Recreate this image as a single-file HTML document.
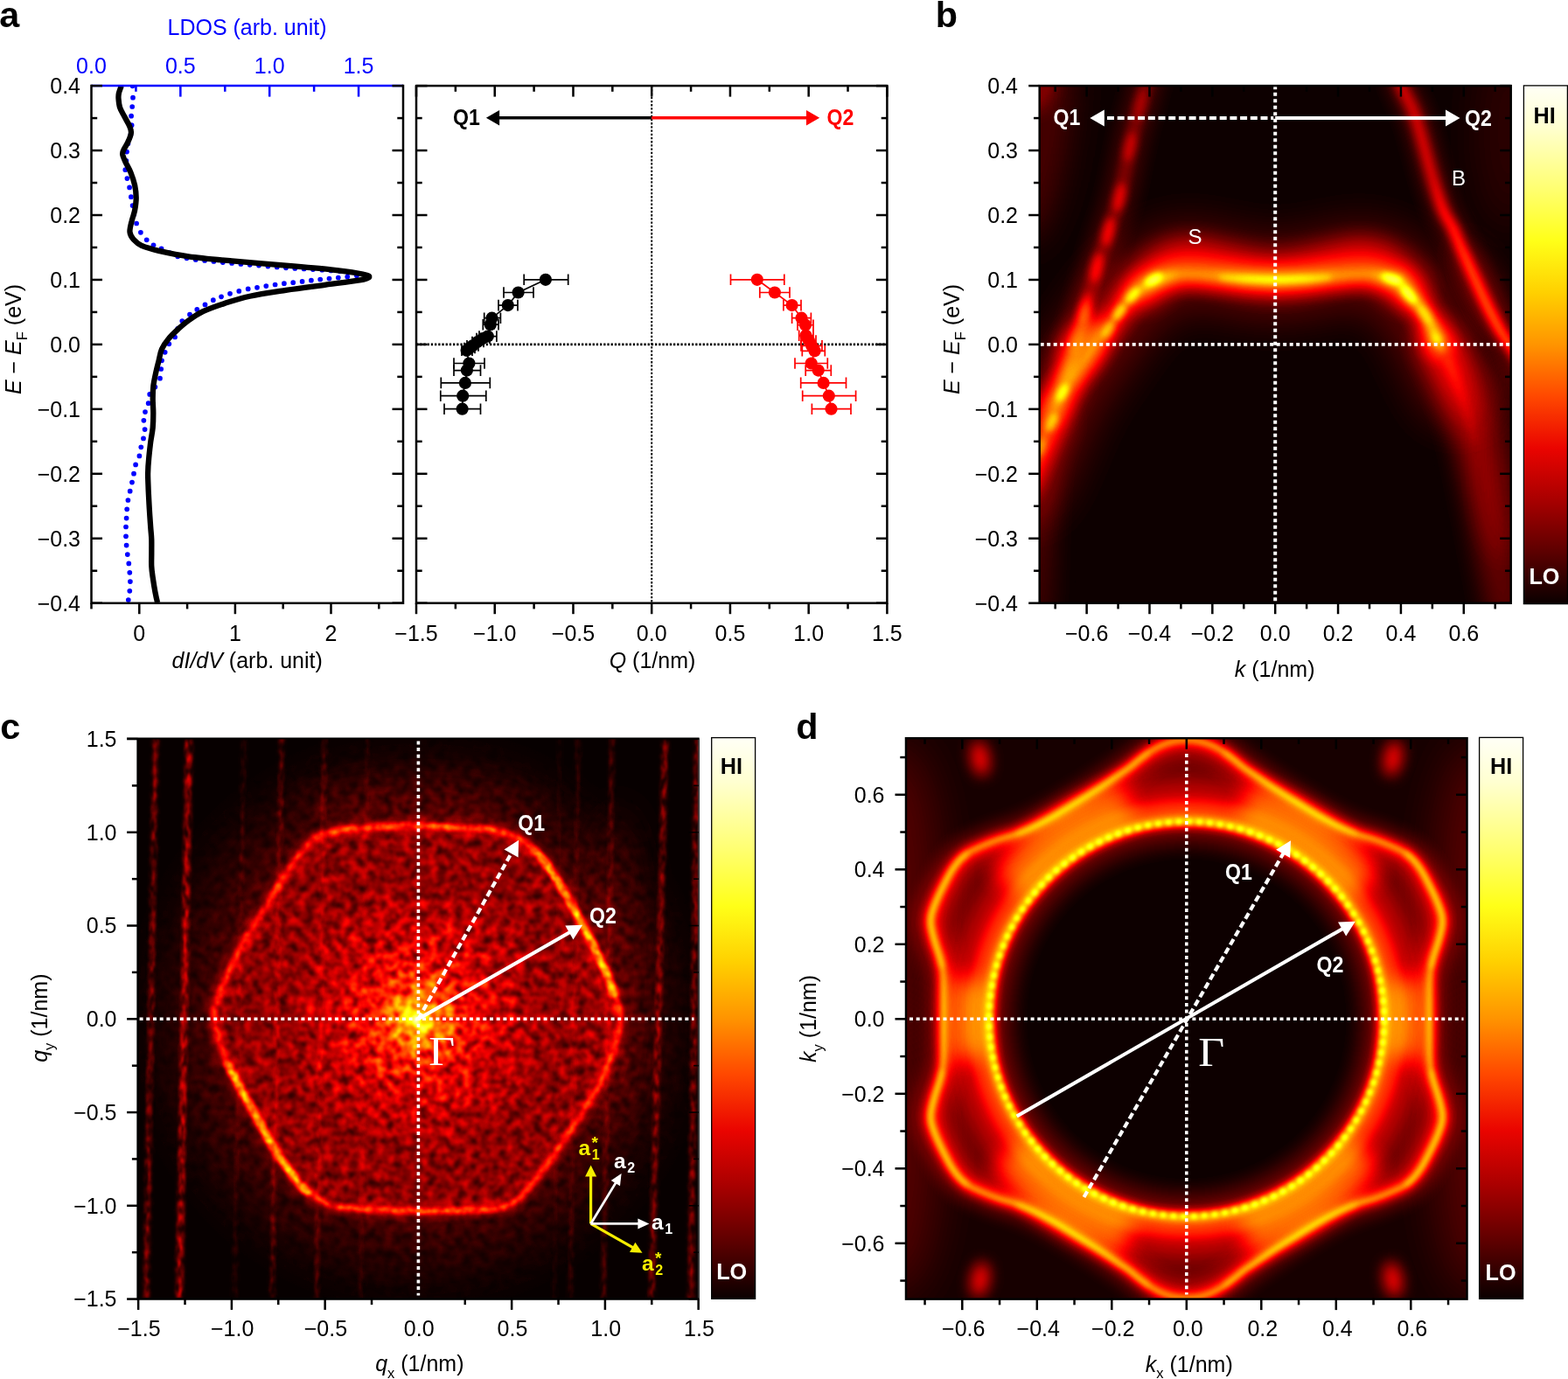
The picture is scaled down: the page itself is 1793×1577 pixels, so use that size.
<!DOCTYPE html>
<html lang="en"><head><meta charset="utf-8"><title>Figure</title>
<style>
html,body{margin:0;padding:0;background:#fff;}
body{width:1793px;height:1577px;overflow:hidden;}
svg{display:block;font-family:"Liberation Sans",sans-serif;}
</style></head><body>
<svg width="1793" height="1577" viewBox="0 0 1793 1577">
<rect width="1793" height="1577" fill="#fff"/>
<defs>
<filter id="hot" color-interpolation-filters="sRGB" filterUnits="userSpaceOnUse" x="0" y="0" width="1793" height="1577">
<feComponentTransfer><feFuncR type="table" tableValues="0.030 0.108 0.186 0.265 0.343 0.421 0.499 0.578 0.656 0.734 0.812 0.890 0.969 1.000 1.000 1.000 1.000 1.000 1.000 1.000 1.000 1.000 1.000 1.000 1.000 1.000 1.000 1.000 1.000 1.000 1.000 1.000 1.000 1.000 1.000 1.000 1.000 1.000 1.000 1.000 1.000"/><feFuncG type="table" tableValues="0.000 0.000 0.000 0.000 0.000 0.000 0.000 0.000 0.000 0.000 0.000 0.000 0.000 0.038 0.103 0.167 0.231 0.295 0.359 0.423 0.487 0.551 0.615 0.679 0.744 0.808 0.872 0.936 1.000 1.000 1.000 1.000 1.000 1.000 1.000 1.000 1.000 1.000 1.000 1.000 1.000"/><feFuncB type="table" tableValues="0.000 0.000 0.000 0.000 0.000 0.000 0.000 0.000 0.000 0.000 0.000 0.000 0.000 0.000 0.000 0.000 0.000 0.000 0.000 0.000 0.000 0.000 0.000 0.000 0.000 0.000 0.000 0.000 0.000 0.081 0.162 0.243 0.323 0.404 0.485 0.566 0.647 0.728 0.808 0.889 0.970"/></feComponentTransfer></filter>
<filter id="bl1_5" color-interpolation-filters="sRGB" filterUnits="userSpaceOnUse" x="0" y="0" width="1793" height="1577"><feGaussianBlur stdDeviation="1.5"/></filter>
<filter id="bl2" color-interpolation-filters="sRGB" filterUnits="userSpaceOnUse" x="0" y="0" width="1793" height="1577"><feGaussianBlur stdDeviation="2"/></filter>
<filter id="bl3" color-interpolation-filters="sRGB" filterUnits="userSpaceOnUse" x="0" y="0" width="1793" height="1577"><feGaussianBlur stdDeviation="3"/></filter>
<filter id="bl4" color-interpolation-filters="sRGB" filterUnits="userSpaceOnUse" x="0" y="0" width="1793" height="1577"><feGaussianBlur stdDeviation="4"/></filter>
<filter id="bl5" color-interpolation-filters="sRGB" filterUnits="userSpaceOnUse" x="0" y="0" width="1793" height="1577"><feGaussianBlur stdDeviation="5"/></filter>
<filter id="bl6" color-interpolation-filters="sRGB" filterUnits="userSpaceOnUse" x="0" y="0" width="1793" height="1577"><feGaussianBlur stdDeviation="6"/></filter>
<filter id="bl8" color-interpolation-filters="sRGB" filterUnits="userSpaceOnUse" x="0" y="0" width="1793" height="1577"><feGaussianBlur stdDeviation="8"/></filter>
<filter id="bl10" color-interpolation-filters="sRGB" filterUnits="userSpaceOnUse" x="0" y="0" width="1793" height="1577"><feGaussianBlur stdDeviation="10"/></filter>
<filter id="bl12" color-interpolation-filters="sRGB" filterUnits="userSpaceOnUse" x="0" y="0" width="1793" height="1577"><feGaussianBlur stdDeviation="12"/></filter>
<filter id="bl16" color-interpolation-filters="sRGB" filterUnits="userSpaceOnUse" x="0" y="0" width="1793" height="1577"><feGaussianBlur stdDeviation="16"/></filter>
<filter id="bl20" color-interpolation-filters="sRGB" filterUnits="userSpaceOnUse" x="0" y="0" width="1793" height="1577"><feGaussianBlur stdDeviation="20"/></filter>
<filter id="bl25" color-interpolation-filters="sRGB" filterUnits="userSpaceOnUse" x="0" y="0" width="1793" height="1577"><feGaussianBlur stdDeviation="25"/></filter>
<filter id="bl30" color-interpolation-filters="sRGB" filterUnits="userSpaceOnUse" x="0" y="0" width="1793" height="1577"><feGaussianBlur stdDeviation="30"/></filter>
<filter id="bl40" color-interpolation-filters="sRGB" filterUnits="userSpaceOnUse" x="0" y="0" width="1793" height="1577"><feGaussianBlur stdDeviation="40"/></filter>
<filter id="bl60" color-interpolation-filters="sRGB" filterUnits="userSpaceOnUse" x="0" y="0" width="1793" height="1577"><feGaussianBlur stdDeviation="60"/></filter>
<linearGradient id="cbar" x1="0" y1="0" x2="0" y2="1"><stop offset="0" stop-color="#fffff6"/><stop offset="0.08" stop-color="#ffffd0"/><stop offset="0.2" stop-color="#ffff70"/><stop offset="0.3" stop-color="#ffff18"/><stop offset="0.4" stop-color="#ffd000"/><stop offset="0.5" stop-color="#ff9400"/><stop offset="0.6" stop-color="#ff4800"/><stop offset="0.7" stop-color="#ea0400"/><stop offset="0.8" stop-color="#a80000"/><stop offset="0.9" stop-color="#5c0000"/><stop offset="1" stop-color="#0a0000"/></linearGradient>
</defs>
<g id="panel-a">
<text x="-0.80" y="31.40" text-anchor="start" font-size="41.3" fill="#000" font-weight="bold" font-style="normal" >a</text>
<clipPath id="clipA"><rect x="104.5" y="98.09999999999997" width="356.5" height="591.6000000000001"/></clipPath>
<g clip-path="url(#clipA)">
<g fill="#0000ff"><circle cx="151.6" cy="98.3" r="2.85"/><circle cx="152.0" cy="111.7" r="2.85"/><circle cx="151.2" cy="122.0" r="2.85"/><circle cx="150.1" cy="132.7" r="2.85"/><circle cx="150.6" cy="143.2" r="2.85"/><circle cx="149.5" cy="154.0" r="2.85"/><circle cx="146.4" cy="164.3" r="2.85"/><circle cx="145.0" cy="173.6" r="2.85"/><circle cx="144.4" cy="183.9" r="2.85"/><circle cx="143.3" cy="194.2" r="2.85"/><circle cx="145.4" cy="204.1" r="2.85"/><circle cx="148.1" cy="214.4" r="2.85"/><circle cx="149.9" cy="225.2" r="2.85"/><circle cx="151.6" cy="235.1" r="2.85"/><circle cx="153.2" cy="245.2" r="2.85"/><circle cx="156.1" cy="255.5" r="2.85"/><circle cx="160.9" cy="265.8" r="2.85"/><circle cx="167.7" cy="274.3" r="2.85"/><circle cx="175.5" cy="280.3" r="2.85"/><circle cx="184.6" cy="284.4" r="2.85"/><circle cx="193.9" cy="289.1" r="2.85"/><circle cx="203.2" cy="293.3" r="2.85"/><circle cx="213.5" cy="295.3" r="2.85"/><circle cx="223.8" cy="297.0" r="2.85"/><circle cx="234.1" cy="298.0" r="2.85"/><circle cx="244.4" cy="299.0" r="2.85"/><circle cx="254.8" cy="300.1" r="2.85"/><circle cx="265.1" cy="300.9" r="2.85"/><circle cx="275.4" cy="301.9" r="2.85"/><circle cx="285.7" cy="302.8" r="2.85"/><circle cx="296.0" cy="303.6" r="2.85"/><circle cx="306.4" cy="304.6" r="2.85"/><circle cx="316.7" cy="305.4" r="2.85"/><circle cx="327.0" cy="306.3" r="2.85"/><circle cx="337.3" cy="306.9" r="2.85"/><circle cx="347.6" cy="307.5" r="2.85"/><circle cx="357.9" cy="308.1" r="2.85"/><circle cx="368.3" cy="308.7" r="2.85"/><circle cx="378.6" cy="309.4" r="2.85"/><circle cx="388.9" cy="310.2" r="2.85"/><circle cx="398.2" cy="311.8" r="2.85"/><circle cx="407.9" cy="315.3" r="2.85"/><circle cx="397.2" cy="316.6" r="2.85"/><circle cx="386.8" cy="317.6" r="2.85"/><circle cx="376.5" cy="318.6" r="2.85"/><circle cx="366.2" cy="319.5" r="2.85"/><circle cx="355.9" cy="320.7" r="2.85"/><circle cx="345.6" cy="321.9" r="2.85"/><circle cx="335.2" cy="323.2" r="2.85"/><circle cx="324.9" cy="324.2" r="2.85"/><circle cx="314.6" cy="325.5" r="2.85"/><circle cx="304.3" cy="327.1" r="2.85"/><circle cx="294.0" cy="328.8" r="2.85"/><circle cx="283.7" cy="330.4" r="2.85"/><circle cx="273.3" cy="332.9" r="2.85"/><circle cx="263.0" cy="335.8" r="2.85"/><circle cx="253.1" cy="339.3" r="2.85"/><circle cx="243.8" cy="343.2" r="2.85"/><circle cx="234.5" cy="348.4" r="2.85"/><circle cx="225.3" cy="353.9" r="2.85"/><circle cx="217.0" cy="359.7" r="2.85"/><circle cx="208.3" cy="367.1" r="2.85"/><circle cx="203.2" cy="375.8" r="2.85"/><circle cx="200.1" cy="385.5" r="2.85"/><circle cx="193.3" cy="393.3" r="2.85"/><circle cx="188.7" cy="402.8" r="2.85"/><circle cx="185.0" cy="412.3" r="2.85"/><circle cx="184.2" cy="422.0" r="2.85"/><circle cx="183.0" cy="432.7" r="2.85"/><circle cx="177.4" cy="442.6" r="2.85"/><circle cx="171.2" cy="450.9" r="2.85"/><circle cx="169.7" cy="461.2" r="2.85"/><circle cx="166.0" cy="471.1" r="2.85"/><circle cx="164.4" cy="480.8" r="2.85"/><circle cx="165.6" cy="491.1" r="2.85"/><circle cx="164.0" cy="501.4" r="2.85"/><circle cx="161.3" cy="511.3" r="2.85"/><circle cx="159.4" cy="521.4" r="2.85"/><circle cx="155.1" cy="531.4" r="2.85"/><circle cx="153.0" cy="541.7" r="2.85"/><circle cx="151.0" cy="551.6" r="2.85"/><circle cx="148.7" cy="561.7" r="2.85"/><circle cx="146.4" cy="572.0" r="2.85"/><circle cx="145.2" cy="582.3" r="2.85"/><circle cx="144.6" cy="592.6" r="2.85"/><circle cx="144.0" cy="602.5" r="2.85"/><circle cx="144.0" cy="613.3" r="2.85"/><circle cx="144.6" cy="623.6" r="2.85"/><circle cx="145.8" cy="634.1" r="2.85"/><circle cx="147.3" cy="644.4" r="2.85"/><circle cx="148.3" cy="654.8" r="2.85"/><circle cx="148.9" cy="665.1" r="2.85"/><circle cx="148.3" cy="675.8" r="2.85"/><circle cx="146.8" cy="686.1" r="2.85"/></g>
<path d="M138.8,98.3C138.3,99.6 136.5,104.1 135.9,106.5C135.4,108.9 135.3,109.9 135.5,112.7C135.7,115.5 136.0,119.6 137.1,123.0C138.3,126.5 140.5,129.9 142.3,133.3C144.1,136.8 146.6,140.6 147.9,143.7C149.1,146.7 150.2,148.8 149.9,151.9C149.7,155.0 147.9,159.0 146.4,162.2C145.0,165.5 142.3,169.1 141.3,171.5C140.2,173.9 139.9,174.4 140.2,176.7C140.6,178.9 141.8,181.5 143.3,184.9C144.9,188.4 147.7,192.8 149.5,197.3C151.3,201.8 153.0,206.9 154.1,211.7C155.1,216.6 155.7,221.4 155.7,226.2C155.7,231.0 154.9,236.2 154.1,240.6C153.2,245.1 151.5,248.9 150.6,253.0C149.6,257.1 148.1,262.0 148.5,265.4C148.8,268.8 150.4,271.1 152.6,273.7C154.9,276.2 156.9,278.6 161.9,280.9C166.9,283.1 173.6,285.0 182.5,287.1C191.5,289.1 201.8,291.4 215.6,293.3C229.3,295.2 246.5,296.7 265.1,298.4C283.7,300.1 308.1,301.9 327.0,303.6C345.9,305.2 364.8,306.8 378.6,308.3C392.3,309.8 402.5,311.3 409.5,312.5C416.6,313.6 418.8,314.7 420.9,315.3C422.9,316.0 421.9,316.2 421.9,316.6C421.9,317.0 422.9,317.1 420.9,317.8C418.8,318.5 418.3,319.3 409.5,320.7C400.8,322.1 382.0,324.4 368.3,326.3C354.5,328.1 340.7,329.8 327.0,331.8C313.2,333.9 297.4,336.1 285.7,338.7C274.0,341.2 265.8,344.0 256.8,346.9C247.9,349.8 238.9,352.9 232.1,356.2C225.2,359.5 220.4,363.1 215.6,366.5C210.7,370.0 207.0,373.4 203.2,376.8C199.4,380.3 195.9,383.4 192.9,387.2C189.8,390.9 186.9,395.0 185.0,399.3C183.1,403.5 182.7,408.1 181.5,412.7C180.3,417.3 179.0,422.3 178.0,427.1C177.0,432.0 175.9,436.8 175.3,441.6C174.8,446.4 174.7,450.9 174.7,456.0C174.7,461.2 175.3,467.0 175.3,472.5C175.3,478.0 175.2,483.5 174.7,489.1C174.2,494.6 173.0,499.7 172.2,505.6C171.5,511.4 170.7,518.1 170.2,524.1C169.6,530.1 169.2,535.5 169.1,541.7C169.1,547.9 169.5,554.6 169.7,561.3C170.0,568.0 170.4,575.0 170.8,581.9C171.2,588.8 171.8,596.7 172.2,602.5C172.6,608.4 173.1,611.8 173.3,617.0C173.4,622.2 173.3,628.3 173.3,633.5C173.3,638.7 173.0,643.5 173.3,647.9C173.5,652.4 174.0,655.5 174.7,660.3C175.4,665.1 176.5,672.0 177.4,676.8C178.3,681.6 179.6,687.2 180.1,689.2" fill="none" stroke="#000" stroke-width="6.3" stroke-linejoin="round"/>
</g>
<line x1="104.50" y1="98.10" x2="461.00" y2="98.10" stroke="#0000ff" stroke-width="2.5" />
<line x1="206.35" y1="98.10" x2="206.35" y2="110.60" stroke="#0000ff" stroke-width="2.5" />
<line x1="308.20" y1="98.10" x2="308.20" y2="110.60" stroke="#0000ff" stroke-width="2.5" />
<line x1="410.05" y1="98.10" x2="410.05" y2="110.60" stroke="#0000ff" stroke-width="2.5" />
<line x1="155.43" y1="98.10" x2="155.43" y2="104.80" stroke="#0000ff" stroke-width="2.5" />
<line x1="257.27" y1="98.10" x2="257.27" y2="104.80" stroke="#0000ff" stroke-width="2.5" />
<line x1="359.12" y1="98.10" x2="359.12" y2="104.80" stroke="#0000ff" stroke-width="2.5" />
<path d="M104.5,96.84999999999997 V689.7 H461.0 V96.84999999999997" fill="none" stroke="#000" stroke-width="2.5"/>
<line x1="104.50" y1="689.70" x2="117.00" y2="689.70" stroke="#000" stroke-width="2.5" />
<line x1="104.50" y1="615.75" x2="117.00" y2="615.75" stroke="#000" stroke-width="2.5" />
<line x1="104.50" y1="541.80" x2="117.00" y2="541.80" stroke="#000" stroke-width="2.5" />
<line x1="104.50" y1="467.85" x2="117.00" y2="467.85" stroke="#000" stroke-width="2.5" />
<line x1="104.50" y1="393.90" x2="117.00" y2="393.90" stroke="#000" stroke-width="2.5" />
<line x1="104.50" y1="319.95" x2="117.00" y2="319.95" stroke="#000" stroke-width="2.5" />
<line x1="104.50" y1="246.00" x2="117.00" y2="246.00" stroke="#000" stroke-width="2.5" />
<line x1="104.50" y1="172.05" x2="117.00" y2="172.05" stroke="#000" stroke-width="2.5" />
<line x1="104.50" y1="98.10" x2="117.00" y2="98.10" stroke="#000" stroke-width="2.5" />
<line x1="104.50" y1="652.73" x2="111.20" y2="652.73" stroke="#000" stroke-width="2.5" />
<line x1="104.50" y1="578.77" x2="111.20" y2="578.77" stroke="#000" stroke-width="2.5" />
<line x1="104.50" y1="504.82" x2="111.20" y2="504.82" stroke="#000" stroke-width="2.5" />
<line x1="104.50" y1="430.88" x2="111.20" y2="430.88" stroke="#000" stroke-width="2.5" />
<line x1="104.50" y1="356.92" x2="111.20" y2="356.92" stroke="#000" stroke-width="2.5" />
<line x1="104.50" y1="282.97" x2="111.20" y2="282.97" stroke="#000" stroke-width="2.5" />
<line x1="104.50" y1="209.02" x2="111.20" y2="209.02" stroke="#000" stroke-width="2.5" />
<line x1="104.50" y1="135.07" x2="111.20" y2="135.07" stroke="#000" stroke-width="2.5" />
<line x1="461.00" y1="689.70" x2="448.50" y2="689.70" stroke="#000" stroke-width="2.5" />
<line x1="461.00" y1="615.75" x2="448.50" y2="615.75" stroke="#000" stroke-width="2.5" />
<line x1="461.00" y1="541.80" x2="448.50" y2="541.80" stroke="#000" stroke-width="2.5" />
<line x1="461.00" y1="467.85" x2="448.50" y2="467.85" stroke="#000" stroke-width="2.5" />
<line x1="461.00" y1="393.90" x2="448.50" y2="393.90" stroke="#000" stroke-width="2.5" />
<line x1="461.00" y1="319.95" x2="448.50" y2="319.95" stroke="#000" stroke-width="2.5" />
<line x1="461.00" y1="246.00" x2="448.50" y2="246.00" stroke="#000" stroke-width="2.5" />
<line x1="461.00" y1="172.05" x2="448.50" y2="172.05" stroke="#000" stroke-width="2.5" />
<line x1="461.00" y1="98.10" x2="448.50" y2="98.10" stroke="#000" stroke-width="2.5" />
<line x1="461.00" y1="652.73" x2="454.30" y2="652.73" stroke="#000" stroke-width="2.5" />
<line x1="461.00" y1="578.77" x2="454.30" y2="578.77" stroke="#000" stroke-width="2.5" />
<line x1="461.00" y1="504.82" x2="454.30" y2="504.82" stroke="#000" stroke-width="2.5" />
<line x1="461.00" y1="430.88" x2="454.30" y2="430.88" stroke="#000" stroke-width="2.5" />
<line x1="461.00" y1="356.92" x2="454.30" y2="356.92" stroke="#000" stroke-width="2.5" />
<line x1="461.00" y1="282.97" x2="454.30" y2="282.97" stroke="#000" stroke-width="2.5" />
<line x1="461.00" y1="209.02" x2="454.30" y2="209.02" stroke="#000" stroke-width="2.5" />
<line x1="461.00" y1="135.07" x2="454.30" y2="135.07" stroke="#000" stroke-width="2.5" />
<line x1="159.30" y1="689.70" x2="159.30" y2="702.20" stroke="#000" stroke-width="2.5" />
<line x1="268.90" y1="689.70" x2="268.90" y2="702.20" stroke="#000" stroke-width="2.5" />
<line x1="378.50" y1="689.70" x2="378.50" y2="702.20" stroke="#000" stroke-width="2.5" />
<line x1="104.50" y1="689.70" x2="104.50" y2="696.40" stroke="#000" stroke-width="2.5" />
<line x1="214.10" y1="689.70" x2="214.10" y2="696.40" stroke="#000" stroke-width="2.5" />
<line x1="323.70" y1="689.70" x2="323.70" y2="696.40" stroke="#000" stroke-width="2.5" />
<line x1="433.30" y1="689.70" x2="433.30" y2="696.40" stroke="#000" stroke-width="2.5" />
<text x="92.00" y="698.60" text-anchor="end" font-size="25.0" fill="#000" font-weight="normal" font-style="normal" >−0.4</text>
<text x="92.00" y="624.65" text-anchor="end" font-size="25.0" fill="#000" font-weight="normal" font-style="normal" >−0.3</text>
<text x="92.00" y="550.70" text-anchor="end" font-size="25.0" fill="#000" font-weight="normal" font-style="normal" >−0.2</text>
<text x="92.00" y="476.75" text-anchor="end" font-size="25.0" fill="#000" font-weight="normal" font-style="normal" >−0.1</text>
<text x="92.00" y="402.80" text-anchor="end" font-size="25.0" fill="#000" font-weight="normal" font-style="normal" >0.0</text>
<text x="92.00" y="328.85" text-anchor="end" font-size="25.0" fill="#000" font-weight="normal" font-style="normal" >0.1</text>
<text x="92.00" y="254.90" text-anchor="end" font-size="25.0" fill="#000" font-weight="normal" font-style="normal" >0.2</text>
<text x="92.00" y="180.95" text-anchor="end" font-size="25.0" fill="#000" font-weight="normal" font-style="normal" >0.3</text>
<text x="92.00" y="107.00" text-anchor="end" font-size="25.0" fill="#000" font-weight="normal" font-style="normal" >0.4</text>
<text x="159.30" y="732.90" text-anchor="middle" font-size="25.0" fill="#000" font-weight="normal" font-style="normal" >0</text>
<text x="268.90" y="732.90" text-anchor="middle" font-size="25.0" fill="#000" font-weight="normal" font-style="normal" >1</text>
<text x="378.50" y="732.90" text-anchor="middle" font-size="25.0" fill="#000" font-weight="normal" font-style="normal" >2</text>
<text x="104.50" y="83.60" text-anchor="middle" font-size="25.0" fill="#0000ff" font-weight="normal" font-style="normal" >0.0</text>
<text x="206.35" y="83.60" text-anchor="middle" font-size="25.0" fill="#0000ff" font-weight="normal" font-style="normal" >0.5</text>
<text x="308.20" y="83.60" text-anchor="middle" font-size="25.0" fill="#0000ff" font-weight="normal" font-style="normal" >1.0</text>
<text x="410.05" y="83.60" text-anchor="middle" font-size="25.0" fill="#0000ff" font-weight="normal" font-style="normal" >1.5</text>
<text x="282.50" y="40.30" text-anchor="middle" font-size="25.0" fill="#0000ff" font-weight="normal" font-style="normal" >LDOS (arb. unit)</text>
<text x="282.7" y="764.3" text-anchor="middle" font-size="25.0"><tspan font-style="italic">dI/dV</tspan> (arb. unit)</text>
<text transform="translate(23.8,388) rotate(-90)" text-anchor="middle" font-size="25.0"><tspan font-style="italic">E</tspan> − <tspan font-style="italic">E</tspan><tspan font-size="16.5" dy="7.5">F</tspan><tspan dy="-7.5"> (eV)</tspan></text>
<line x1="476.00" y1="393.90" x2="1014.40" y2="393.90" stroke="#000" stroke-width="2.6" stroke-dasharray="2.3 1.9"/>
<line x1="745.20" y1="98.10" x2="745.20" y2="689.70" stroke="#000" stroke-width="2.0" stroke-dasharray="2.3 1.9"/>
<rect x="476.0" y="98.09999999999997" width="538.4" height="591.6000000000001" fill="none" stroke="#000" stroke-width="2.5"/>
<line x1="476.00" y1="689.70" x2="488.50" y2="689.70" stroke="#000" stroke-width="2.5" />
<line x1="476.00" y1="615.75" x2="488.50" y2="615.75" stroke="#000" stroke-width="2.5" />
<line x1="476.00" y1="541.80" x2="488.50" y2="541.80" stroke="#000" stroke-width="2.5" />
<line x1="476.00" y1="467.85" x2="488.50" y2="467.85" stroke="#000" stroke-width="2.5" />
<line x1="476.00" y1="393.90" x2="488.50" y2="393.90" stroke="#000" stroke-width="2.5" />
<line x1="476.00" y1="319.95" x2="488.50" y2="319.95" stroke="#000" stroke-width="2.5" />
<line x1="476.00" y1="246.00" x2="488.50" y2="246.00" stroke="#000" stroke-width="2.5" />
<line x1="476.00" y1="172.05" x2="488.50" y2="172.05" stroke="#000" stroke-width="2.5" />
<line x1="476.00" y1="98.10" x2="488.50" y2="98.10" stroke="#000" stroke-width="2.5" />
<line x1="476.00" y1="652.73" x2="482.70" y2="652.73" stroke="#000" stroke-width="2.5" />
<line x1="476.00" y1="578.77" x2="482.70" y2="578.77" stroke="#000" stroke-width="2.5" />
<line x1="476.00" y1="504.82" x2="482.70" y2="504.82" stroke="#000" stroke-width="2.5" />
<line x1="476.00" y1="430.88" x2="482.70" y2="430.88" stroke="#000" stroke-width="2.5" />
<line x1="476.00" y1="356.92" x2="482.70" y2="356.92" stroke="#000" stroke-width="2.5" />
<line x1="476.00" y1="282.97" x2="482.70" y2="282.97" stroke="#000" stroke-width="2.5" />
<line x1="476.00" y1="209.02" x2="482.70" y2="209.02" stroke="#000" stroke-width="2.5" />
<line x1="476.00" y1="135.07" x2="482.70" y2="135.07" stroke="#000" stroke-width="2.5" />
<line x1="1014.40" y1="689.70" x2="1001.90" y2="689.70" stroke="#000" stroke-width="2.5" />
<line x1="1014.40" y1="615.75" x2="1001.90" y2="615.75" stroke="#000" stroke-width="2.5" />
<line x1="1014.40" y1="541.80" x2="1001.90" y2="541.80" stroke="#000" stroke-width="2.5" />
<line x1="1014.40" y1="467.85" x2="1001.90" y2="467.85" stroke="#000" stroke-width="2.5" />
<line x1="1014.40" y1="393.90" x2="1001.90" y2="393.90" stroke="#000" stroke-width="2.5" />
<line x1="1014.40" y1="319.95" x2="1001.90" y2="319.95" stroke="#000" stroke-width="2.5" />
<line x1="1014.40" y1="246.00" x2="1001.90" y2="246.00" stroke="#000" stroke-width="2.5" />
<line x1="1014.40" y1="172.05" x2="1001.90" y2="172.05" stroke="#000" stroke-width="2.5" />
<line x1="1014.40" y1="98.10" x2="1001.90" y2="98.10" stroke="#000" stroke-width="2.5" />
<line x1="1014.40" y1="652.73" x2="1007.70" y2="652.73" stroke="#000" stroke-width="2.5" />
<line x1="1014.40" y1="578.77" x2="1007.70" y2="578.77" stroke="#000" stroke-width="2.5" />
<line x1="1014.40" y1="504.82" x2="1007.70" y2="504.82" stroke="#000" stroke-width="2.5" />
<line x1="1014.40" y1="430.88" x2="1007.70" y2="430.88" stroke="#000" stroke-width="2.5" />
<line x1="1014.40" y1="356.92" x2="1007.70" y2="356.92" stroke="#000" stroke-width="2.5" />
<line x1="1014.40" y1="282.97" x2="1007.70" y2="282.97" stroke="#000" stroke-width="2.5" />
<line x1="1014.40" y1="209.02" x2="1007.70" y2="209.02" stroke="#000" stroke-width="2.5" />
<line x1="1014.40" y1="135.07" x2="1007.70" y2="135.07" stroke="#000" stroke-width="2.5" />
<line x1="476.00" y1="98.10" x2="476.00" y2="110.60" stroke="#000" stroke-width="2.5" />
<line x1="565.73" y1="98.10" x2="565.73" y2="110.60" stroke="#000" stroke-width="2.5" />
<line x1="655.47" y1="98.10" x2="655.47" y2="110.60" stroke="#000" stroke-width="2.5" />
<line x1="745.20" y1="98.10" x2="745.20" y2="110.60" stroke="#000" stroke-width="2.5" />
<line x1="834.94" y1="98.10" x2="834.94" y2="110.60" stroke="#000" stroke-width="2.5" />
<line x1="924.67" y1="98.10" x2="924.67" y2="110.60" stroke="#000" stroke-width="2.5" />
<line x1="1014.40" y1="98.10" x2="1014.40" y2="110.60" stroke="#000" stroke-width="2.5" />
<line x1="520.86" y1="98.10" x2="520.86" y2="104.80" stroke="#000" stroke-width="2.5" />
<line x1="610.60" y1="98.10" x2="610.60" y2="104.80" stroke="#000" stroke-width="2.5" />
<line x1="700.33" y1="98.10" x2="700.33" y2="104.80" stroke="#000" stroke-width="2.5" />
<line x1="790.07" y1="98.10" x2="790.07" y2="104.80" stroke="#000" stroke-width="2.5" />
<line x1="879.80" y1="98.10" x2="879.80" y2="104.80" stroke="#000" stroke-width="2.5" />
<line x1="969.54" y1="98.10" x2="969.54" y2="104.80" stroke="#000" stroke-width="2.5" />
<line x1="476.00" y1="689.70" x2="476.00" y2="702.20" stroke="#000" stroke-width="2.5" />
<line x1="565.73" y1="689.70" x2="565.73" y2="702.20" stroke="#000" stroke-width="2.5" />
<line x1="655.47" y1="689.70" x2="655.47" y2="702.20" stroke="#000" stroke-width="2.5" />
<line x1="745.20" y1="689.70" x2="745.20" y2="702.20" stroke="#000" stroke-width="2.5" />
<line x1="834.94" y1="689.70" x2="834.94" y2="702.20" stroke="#000" stroke-width="2.5" />
<line x1="924.67" y1="689.70" x2="924.67" y2="702.20" stroke="#000" stroke-width="2.5" />
<line x1="1014.40" y1="689.70" x2="1014.40" y2="702.20" stroke="#000" stroke-width="2.5" />
<line x1="520.86" y1="689.70" x2="520.86" y2="696.40" stroke="#000" stroke-width="2.5" />
<line x1="610.60" y1="689.70" x2="610.60" y2="696.40" stroke="#000" stroke-width="2.5" />
<line x1="700.33" y1="689.70" x2="700.33" y2="696.40" stroke="#000" stroke-width="2.5" />
<line x1="790.07" y1="689.70" x2="790.07" y2="696.40" stroke="#000" stroke-width="2.5" />
<line x1="879.80" y1="689.70" x2="879.80" y2="696.40" stroke="#000" stroke-width="2.5" />
<line x1="969.54" y1="689.70" x2="969.54" y2="696.40" stroke="#000" stroke-width="2.5" />
<text x="476.00" y="732.90" text-anchor="middle" font-size="25.0" fill="#000" font-weight="normal" font-style="normal" >−1.5</text>
<text x="565.73" y="732.90" text-anchor="middle" font-size="25.0" fill="#000" font-weight="normal" font-style="normal" >−1.0</text>
<text x="655.47" y="732.90" text-anchor="middle" font-size="25.0" fill="#000" font-weight="normal" font-style="normal" >−0.5</text>
<text x="745.20" y="732.90" text-anchor="middle" font-size="25.0" fill="#000" font-weight="normal" font-style="normal" >0.0</text>
<text x="834.94" y="732.90" text-anchor="middle" font-size="25.0" fill="#000" font-weight="normal" font-style="normal" >0.5</text>
<text x="924.67" y="732.90" text-anchor="middle" font-size="25.0" fill="#000" font-weight="normal" font-style="normal" >1.0</text>
<text x="1014.40" y="732.90" text-anchor="middle" font-size="25.0" fill="#000" font-weight="normal" font-style="normal" >1.5</text>
<text x="746" y="764.3" text-anchor="middle" font-size="25.0"><tspan font-style="italic">Q</tspan> (1/nm)</text>
<g stroke="#000" stroke-width="1.7" fill="none"><path d="M623.9,319.8 L592.6,334.5 L580.8,349.1 L562.5,363.7 L560.8,371.2 L557.8,384.6 L552.0,387.0 L546.0,391.0 L540.3,395.4 L537.0,398.0 L533.6,400.8 L536.4,415.5 L533.9,423.6 L531.9,437.9 L529.2,452.7 L528.6,467.7"/><path d="M599.2,319.8H649.7M599.2,313.5v12.6M649.7,313.5v12.6"/><path d="M576.0,334.5H610.0M576.0,328.2v12.6M610.0,328.2v12.6"/><path d="M570.0,349.1H592.0M570.0,342.8v12.6M592.0,342.8v12.6"/><path d="M553.7,363.7H572.4M553.7,357.4v12.6M572.4,357.4v12.6"/><path d="M552.3,371.2H570.0M552.3,364.9v12.6M570.0,364.9v12.6"/><path d="M548.0,384.6H567.9M548.0,378.3v12.6M567.9,378.3v12.6"/><path d="M545.0,387.0H560.0M545.0,380.7v12.6M560.0,380.7v12.6"/><path d="M540.0,391.0H553.0M540.0,384.7v12.6M553.0,384.7v12.6"/><path d="M534.0,395.4H547.0M534.0,389.1v12.6M547.0,389.1v12.6"/><path d="M531.0,398.0H543.0M531.0,391.7v12.6M543.0,391.7v12.6"/><path d="M528.0,400.8H540.0M528.0,394.5v12.6M540.0,394.5v12.6"/><path d="M519.0,415.5H554.0M519.0,409.2v12.6M554.0,409.2v12.6"/><path d="M519.0,423.6H549.5M519.0,417.3v12.6M549.5,417.3v12.6"/><path d="M504.3,437.9H560.3M504.3,431.6v12.6M560.3,431.6v12.6"/><path d="M503.8,452.7H555.8M503.8,446.4v12.6M555.8,446.4v12.6"/><path d="M508.0,467.7H549.5M508.0,461.4v12.6M549.5,461.4v12.6"/></g>
<g fill="#000"><circle cx="623.9" cy="319.8" r="7.1"/><circle cx="592.6" cy="334.5" r="7.1"/><circle cx="580.8" cy="349.1" r="7.1"/><circle cx="562.5" cy="363.7" r="7.1"/><circle cx="560.8" cy="371.2" r="7.1"/><circle cx="557.8" cy="384.6" r="7.1"/><circle cx="552.0" cy="387.0" r="7.1"/><circle cx="546.0" cy="391.0" r="7.1"/><circle cx="540.3" cy="395.4" r="7.1"/><circle cx="537.0" cy="398.0" r="7.1"/><circle cx="533.6" cy="400.8" r="7.1"/><circle cx="536.4" cy="415.5" r="7.1"/><circle cx="533.9" cy="423.6" r="7.1"/><circle cx="531.9" cy="437.9" r="7.1"/><circle cx="529.2" cy="452.7" r="7.1"/><circle cx="528.6" cy="467.7" r="7.1"/></g>
<g stroke="#ff0000" stroke-width="1.7" fill="none"><path d="M865.8,319.8 L885.9,334.5 L905.6,349.1 L916.5,363.7 L921.0,371.7 L921.5,383.7 L924.9,389.6 L928.2,395.4 L931.6,401.3 L927.7,415.5 L935.7,423.6 L941.6,437.9 L947.8,452.7 L950.5,467.7"/><path d="M835.5,319.8H896.8M835.5,313.5v12.6M896.8,313.5v12.6"/><path d="M868.8,334.5H903.0M868.8,328.2v12.6M903.0,328.2v12.6"/><path d="M895.9,349.1H916.0M895.9,342.8v12.6M916.0,342.8v12.6"/><path d="M905.6,363.7H927.4M905.6,357.4v12.6M927.4,357.4v12.6"/><path d="M912.0,371.7H930.0M912.0,365.4v12.6M930.0,365.4v12.6"/><path d="M913.7,383.7H930.0M913.7,377.4v12.6M930.0,377.4v12.6"/><path d="M916.0,389.6H933.0M916.0,383.3v12.6M933.0,383.3v12.6"/><path d="M916.0,395.4H940.0M916.0,389.1v12.6M940.0,389.1v12.6"/><path d="M917.3,401.3H943.3M917.3,395.0v12.6M943.3,395.0v12.6"/><path d="M909.0,415.5H946.3M909.0,409.2v12.6M946.3,409.2v12.6"/><path d="M921.2,423.6H950.3M921.2,417.3v12.6M950.3,417.3v12.6"/><path d="M915.7,437.9H967.5M915.7,431.6v12.6M967.5,431.6v12.6"/><path d="M917.7,452.7H978.6M917.7,446.4v12.6M978.6,446.4v12.6"/><path d="M928.4,467.7H973.0M928.4,461.4v12.6M973.0,461.4v12.6"/></g>
<g fill="#ff0000"><circle cx="865.8" cy="319.8" r="7.1"/><circle cx="885.9" cy="334.5" r="7.1"/><circle cx="905.6" cy="349.1" r="7.1"/><circle cx="916.5" cy="363.7" r="7.1"/><circle cx="921.0" cy="371.7" r="7.1"/><circle cx="921.5" cy="383.7" r="7.1"/><circle cx="924.9" cy="389.6" r="7.1"/><circle cx="928.2" cy="395.4" r="7.1"/><circle cx="931.6" cy="401.3" r="7.1"/><circle cx="927.7" cy="415.5" r="7.1"/><circle cx="935.7" cy="423.6" r="7.1"/><circle cx="941.6" cy="437.9" r="7.1"/><circle cx="947.8" cy="452.7" r="7.1"/><circle cx="950.5" cy="467.7" r="7.1"/></g>
<line x1="569.00" y1="134.70" x2="745.20" y2="134.70" stroke="#000" stroke-width="3.4" />
<polygon points="555.9,134.7 571.1,125.9 571.1,143.4" fill="#000"/>
<line x1="745.20" y1="134.70" x2="924.00" y2="134.70" stroke="#ff0000" stroke-width="3.4" />
<polygon points="937.2,134.7 922.0,143.4 922.0,125.9" fill="#ff0000"/>
<text transform="translate(518.00,143.40) scale(0.945,1.075)" text-anchor="start" font-size="24.5" fill="#000" font-weight="bold">Q1</text>
<text transform="translate(945.50,143.40) scale(0.945,1.075)" text-anchor="start" font-size="24.5" fill="#ff0000" font-weight="bold">Q2</text>
</g>
<g id="panel-b">
<text x="1069.70" y="30.60" text-anchor="start" font-size="41.3" fill="#000" font-weight="bold" font-style="normal" >b</text>
<defs>
<filter id="hotB" color-interpolation-filters="sRGB" filterUnits="userSpaceOnUse" x="1186.7" y="96.09999999999997" width="543.0" height="595.6000000000001">
<feComponentTransfer><feFuncR type="table" tableValues="0.030 0.108 0.186 0.265 0.343 0.421 0.499 0.578 0.656 0.734 0.812 0.890 0.969 1.000 1.000 1.000 1.000 1.000 1.000 1.000 1.000 1.000 1.000 1.000 1.000 1.000 1.000 1.000 1.000 1.000 1.000 1.000 1.000 1.000 1.000 1.000 1.000 1.000 1.000 1.000 1.000"/><feFuncG type="table" tableValues="0.000 0.000 0.000 0.000 0.000 0.000 0.000 0.000 0.000 0.000 0.000 0.000 0.000 0.038 0.103 0.167 0.231 0.295 0.359 0.423 0.487 0.551 0.615 0.679 0.744 0.808 0.872 0.936 1.000 1.000 1.000 1.000 1.000 1.000 1.000 1.000 1.000 1.000 1.000 1.000 1.000"/><feFuncB type="table" tableValues="0.000 0.000 0.000 0.000 0.000 0.000 0.000 0.000 0.000 0.000 0.000 0.000 0.000 0.000 0.000 0.000 0.000 0.000 0.000 0.000 0.000 0.000 0.000 0.000 0.000 0.000 0.000 0.000 0.000 0.081 0.162 0.243 0.323 0.404 0.485 0.566 0.647 0.728 0.808 0.889 0.970"/></feComponentTransfer></filter>
<filter id="bb2" color-interpolation-filters="sRGB" filterUnits="userSpaceOnUse" x="1108.7" y="18.099999999999966" width="699.0" height="751.6000000000001"><feGaussianBlur stdDeviation="2"/></filter>
<filter id="bb3" color-interpolation-filters="sRGB" filterUnits="userSpaceOnUse" x="1108.7" y="18.099999999999966" width="699.0" height="751.6000000000001"><feGaussianBlur stdDeviation="3"/></filter>
<filter id="bb4" color-interpolation-filters="sRGB" filterUnits="userSpaceOnUse" x="1108.7" y="18.099999999999966" width="699.0" height="751.6000000000001"><feGaussianBlur stdDeviation="4"/></filter>
<filter id="bb5" color-interpolation-filters="sRGB" filterUnits="userSpaceOnUse" x="1108.7" y="18.099999999999966" width="699.0" height="751.6000000000001"><feGaussianBlur stdDeviation="5"/></filter>
<filter id="bb6" color-interpolation-filters="sRGB" filterUnits="userSpaceOnUse" x="1108.7" y="18.099999999999966" width="699.0" height="751.6000000000001"><feGaussianBlur stdDeviation="6"/></filter>
<filter id="bb8" color-interpolation-filters="sRGB" filterUnits="userSpaceOnUse" x="1108.7" y="18.099999999999966" width="699.0" height="751.6000000000001"><feGaussianBlur stdDeviation="8"/></filter>
<filter id="bb10" color-interpolation-filters="sRGB" filterUnits="userSpaceOnUse" x="1108.7" y="18.099999999999966" width="699.0" height="751.6000000000001"><feGaussianBlur stdDeviation="10"/></filter>
<filter id="bb12" color-interpolation-filters="sRGB" filterUnits="userSpaceOnUse" x="1108.7" y="18.099999999999966" width="699.0" height="751.6000000000001"><feGaussianBlur stdDeviation="12"/></filter>
<filter id="bb14" color-interpolation-filters="sRGB" filterUnits="userSpaceOnUse" x="1108.7" y="18.099999999999966" width="699.0" height="751.6000000000001"><feGaussianBlur stdDeviation="14"/></filter>
<filter id="bb18" color-interpolation-filters="sRGB" filterUnits="userSpaceOnUse" x="1108.7" y="18.099999999999966" width="699.0" height="751.6000000000001"><feGaussianBlur stdDeviation="18"/></filter>
<filter id="bb25" color-interpolation-filters="sRGB" filterUnits="userSpaceOnUse" x="1108.7" y="18.099999999999966" width="699.0" height="751.6000000000001"><feGaussianBlur stdDeviation="25"/></filter>
<filter id="bb35" color-interpolation-filters="sRGB" filterUnits="userSpaceOnUse" x="1108.7" y="18.099999999999966" width="699.0" height="751.6000000000001"><feGaussianBlur stdDeviation="35"/></filter>
<clipPath id="clipB"><rect x="1188.7" y="98.09999999999997" width="539.0" height="591.6000000000001"/></clipPath>
</defs>
<g clip-path="url(#clipB)"><g filter="url(#hotB)">
<rect x="1128.7" y="38.099999999999966" width="659.0" height="711.6000000000001" fill="#000"/>
<rect x="1128.7" y="38.099999999999966" width="659.0" height="711.6000000000001" fill="#fff" fill-opacity="0.007"/>
<linearGradient id="gRlow" gradientUnits="userSpaceOnUse" x1="0" y1="400" x2="0" y2="700"><stop offset="0" stop-color="#fff" stop-opacity="0.26"/><stop offset="0.2" stop-color="#fff" stop-opacity="0.2"/><stop offset="0.4" stop-color="#fff" stop-opacity="0.16"/><stop offset="0.7" stop-color="#fff" stop-opacity="0.13"/><stop offset="1" stop-color="#fff" stop-opacity="0.1"/></linearGradient>
<linearGradient id="gBR" gradientUnits="userSpaceOnUse" x1="0" y1="98" x2="0" y2="400"><stop offset="0" stop-color="#fff" stop-opacity="0.1"/><stop offset="0.35" stop-color="#fff" stop-opacity="0.12"/><stop offset="0.55" stop-color="#fff" stop-opacity="0.24"/><stop offset="1" stop-color="#fff" stop-opacity="0.3"/></linearGradient>
<linearGradient id="gRn" gradientUnits="userSpaceOnUse" x1="0" y1="400" x2="0" y2="520"><stop offset="0" stop-color="#fff" stop-opacity="0.12"/><stop offset="0.5" stop-color="#fff" stop-opacity="0.05"/><stop offset="1" stop-color="#fff" stop-opacity="0.0"/></linearGradient>
<linearGradient id="gLlow" gradientUnits="userSpaceOnUse" x1="0" y1="480" x2="0" y2="700"><stop offset="0" stop-color="#fff" stop-opacity="0.16"/><stop offset="0.3" stop-color="#fff" stop-opacity="0.1"/><stop offset="1" stop-color="#fff" stop-opacity="0.06"/></linearGradient>
<ellipse cx="1192.0" cy="150.0" rx="30" ry="130" fill="#fff" fill-opacity="0.075" transform="rotate(8 1192.0 150.0)" filter="url(#bb18)"/>
<ellipse cx="1192.0" cy="100.0" rx="14" ry="30" fill="#fff" fill-opacity="0.09" transform="rotate(20 1192.0 100.0)" filter="url(#bb8)"/>
<ellipse cx="1725.0" cy="150.0" rx="40" ry="120" fill="#fff" fill-opacity="0.045" transform="rotate(0 1725.0 150.0)" filter="url(#bb25)"/>
<ellipse cx="1722.0" cy="520.0" rx="30" ry="120" fill="#fff" fill-opacity="0.06" transform="rotate(0 1722.0 520.0)" filter="url(#bb18)"/>
<path d="M1203.0,483.0C1200.8,489.2 1192.8,503.8 1190.0,520.0C1187.2,536.2 1187.0,546.7 1186.0,580.0C1185.0,613.3 1184.3,696.7 1184.0,720.0" fill="none" stroke="url(#gLlow)" stroke-width="40" stroke-linecap="round" stroke-linejoin="round" filter="url(#bb14)"/>
<path d="M1645.0,392.0C1647.0,395.8 1653.3,406.8 1657.0,415.0C1660.7,423.2 1663.7,431.7 1667.0,441.0C1670.3,450.3 1674.0,461.0 1677.0,471.0C1680.0,481.0 1681.7,486.2 1685.0,501.0C1688.3,515.8 1693.2,540.2 1697.0,560.0C1700.8,579.8 1703.8,596.7 1708.0,620.0C1712.2,643.3 1719.7,686.7 1722.0,700.0" fill="none" stroke="url(#gRlow)" stroke-width="44" stroke-linecap="round" stroke-linejoin="round" filter="url(#bb14)"/>
<path d="M1657.0,415.0C1658.7,419.3 1663.7,431.7 1667.0,441.0C1670.3,450.3 1674.0,461.0 1677.0,471.0C1680.0,481.0 1681.7,486.2 1685.0,501.0C1688.3,515.8 1695.0,550.2 1697.0,560.0" fill="none" stroke="url(#gRn)" stroke-width="10" stroke-linecap="round" stroke-linejoin="round" filter="url(#bb4)"/>
<path d="M1596.0,70.0C1597.1,74.8 1599.0,88.6 1602.7,98.9C1606.4,109.2 1612.1,114.5 1618.0,131.8C1623.9,149.2 1632.7,185.0 1638.0,203.0C1643.3,221.0 1646.2,230.5 1650.0,240.0C1653.8,249.5 1657.5,252.7 1661.0,260.0C1664.5,267.3 1666.7,274.0 1671.0,284.0C1675.3,294.0 1682.0,308.9 1687.0,320.0C1692.0,331.1 1696.0,340.4 1701.0,350.5C1706.0,360.6 1712.7,373.2 1717.0,380.6C1721.3,388.0 1721.5,386.5 1727.0,394.7C1732.5,402.9 1746.2,424.1 1750.0,430.0" fill="none" stroke="#fff" stroke-width="30" stroke-opacity="0.09" stroke-linecap="round" stroke-linejoin="round" filter="url(#bb10)" />
<path d="M1596.0,70.0C1597.1,74.8 1599.0,88.6 1602.7,98.9C1606.4,109.2 1612.1,114.5 1618.0,131.8C1623.9,149.2 1632.7,185.0 1638.0,203.0C1643.3,221.0 1646.2,230.5 1650.0,240.0C1653.8,249.5 1657.5,252.7 1661.0,260.0C1664.5,267.3 1666.7,274.0 1671.0,284.0C1675.3,294.0 1682.0,308.9 1687.0,320.0C1692.0,331.1 1696.0,340.4 1701.0,350.5C1706.0,360.6 1712.7,373.2 1717.0,380.6C1721.3,388.0 1721.5,386.5 1727.0,394.7C1732.5,402.9 1746.2,424.1 1750.0,430.0" fill="none" stroke="#fff" stroke-width="17" stroke-opacity="0.1" stroke-linecap="round" stroke-linejoin="round" filter="url(#bb6)" />
<path d="M1596.0,70.0C1597.1,74.8 1599.0,88.6 1602.7,98.9C1606.4,109.2 1612.1,114.5 1618.0,131.8C1623.9,149.2 1632.7,185.0 1638.0,203.0C1643.3,221.0 1646.2,230.5 1650.0,240.0C1653.8,249.5 1657.5,252.7 1661.0,260.0C1664.5,267.3 1666.7,274.0 1671.0,284.0C1675.3,294.0 1682.0,308.9 1687.0,320.0C1692.0,331.1 1696.0,340.4 1701.0,350.5C1706.0,360.6 1712.7,373.2 1717.0,380.6C1721.3,388.0 1721.5,386.5 1727.0,394.7C1732.5,402.9 1746.2,424.1 1750.0,430.0" fill="none" stroke="url(#gBR)" stroke-width="11" stroke-linecap="butt" stroke-linejoin="round" filter="url(#bb4)"/>
<ellipse cx="1700.0" cy="330.0" rx="20" ry="60" fill="#fff" fill-opacity="0.07" transform="rotate(-28 1700.0 330.0)" filter="url(#bb14)"/>
<path d="M1314.0,80.0C1313.3,83.0 1312.3,88.8 1310.0,98.0C1307.7,107.2 1303.0,123.3 1300.0,135.0C1297.0,146.7 1295.3,152.8 1292.0,168.0C1288.7,183.2 1284.2,209.8 1280.0,226.0C1275.8,242.2 1271.3,251.7 1267.0,265.0C1262.7,278.3 1258.3,291.3 1254.0,306.0C1249.7,320.7 1245.3,338.2 1241.0,353.0C1236.7,367.8 1230.2,388.0 1228.0,395.0" fill="none" stroke="#fff" stroke-width="36" stroke-opacity="0.07" stroke-linecap="round" stroke-linejoin="round" filter="url(#bb10)" />
<path d="M1314.0,80.0C1313.3,83.0 1312.3,88.8 1310.0,98.0C1307.7,107.2 1303.0,123.3 1300.0,135.0C1297.0,146.7 1295.3,152.8 1292.0,168.0C1288.7,183.2 1284.2,209.8 1280.0,226.0C1275.8,242.2 1271.3,251.7 1267.0,265.0C1262.7,278.3 1258.3,291.3 1254.0,306.0C1249.7,320.7 1245.3,338.2 1241.0,353.0C1236.7,367.8 1230.2,388.0 1228.0,395.0" fill="none" stroke="#fff" stroke-width="15" stroke-opacity="0.085" stroke-linecap="round" stroke-linejoin="round" filter="url(#bb5)" />
<ellipse cx="1304.0" cy="120.0" rx="6.5" ry="17" fill="#fff" fill-opacity="0.07" transform="rotate(12 1304.0 120.0)" filter="url(#bb4)"/>
<ellipse cx="1292.0" cy="168.0" rx="6.5" ry="17" fill="#fff" fill-opacity="0.12" transform="rotate(12 1292.0 168.0)" filter="url(#bb4)"/>
<ellipse cx="1280.0" cy="226.0" rx="6.5" ry="17" fill="#fff" fill-opacity="0.17" transform="rotate(12 1280.0 226.0)" filter="url(#bb4)"/>
<ellipse cx="1267.5" cy="265.0" rx="6.5" ry="17" fill="#fff" fill-opacity="0.19" transform="rotate(12 1267.5 265.0)" filter="url(#bb4)"/>
<ellipse cx="1254.0" cy="306.0" rx="6.5" ry="17" fill="#fff" fill-opacity="0.19" transform="rotate(12 1254.0 306.0)" filter="url(#bb4)"/>
<ellipse cx="1241.0" cy="353.0" rx="6.5" ry="17" fill="#fff" fill-opacity="0.19" transform="rotate(12 1241.0 353.0)" filter="url(#bb4)"/>
<linearGradient id="gC1" gradientUnits="userSpaceOnUse" x1="1180" y1="0" x2="1650" y2="0"><stop offset="0.0000" stop-color="#fff" stop-opacity="0.070"/><stop offset="0.1489" stop-color="#fff" stop-opacity="0.084"/><stop offset="0.2553" stop-color="#fff" stop-opacity="0.154"/><stop offset="0.2979" stop-color="#fff" stop-opacity="0.280"/><stop offset="0.3617" stop-color="#fff" stop-opacity="0.118"/><stop offset="0.4362" stop-color="#fff" stop-opacity="0.126"/><stop offset="0.5213" stop-color="#fff" stop-opacity="0.252"/><stop offset="0.5915" stop-color="#fff" stop-opacity="0.280"/><stop offset="0.6617" stop-color="#fff" stop-opacity="0.252"/><stop offset="0.7468" stop-color="#fff" stop-opacity="0.126"/><stop offset="0.8213" stop-color="#fff" stop-opacity="0.118"/><stop offset="0.8851" stop-color="#fff" stop-opacity="0.280"/><stop offset="1.0000" stop-color="#fff" stop-opacity="0.252"/></linearGradient>
<linearGradient id="gC2" gradientUnits="userSpaceOnUse" x1="1180" y1="0" x2="1650" y2="0"><stop offset="0.0000" stop-color="#fff" stop-opacity="0.055"/><stop offset="0.1489" stop-color="#fff" stop-opacity="0.066"/><stop offset="0.2553" stop-color="#fff" stop-opacity="0.121"/><stop offset="0.2979" stop-color="#fff" stop-opacity="0.220"/><stop offset="0.3617" stop-color="#fff" stop-opacity="0.092"/><stop offset="0.4362" stop-color="#fff" stop-opacity="0.099"/><stop offset="0.5213" stop-color="#fff" stop-opacity="0.198"/><stop offset="0.5915" stop-color="#fff" stop-opacity="0.220"/><stop offset="0.6617" stop-color="#fff" stop-opacity="0.198"/><stop offset="0.7468" stop-color="#fff" stop-opacity="0.099"/><stop offset="0.8213" stop-color="#fff" stop-opacity="0.092"/><stop offset="0.8851" stop-color="#fff" stop-opacity="0.220"/><stop offset="1.0000" stop-color="#fff" stop-opacity="0.198"/></linearGradient>
<path d="M1172.0,550.0C1174.8,543.3 1184.0,521.8 1189.0,510.0C1194.0,498.2 1197.7,489.2 1202.0,479.0C1206.3,468.8 1209.5,458.8 1215.0,449.0C1220.5,439.2 1228.4,429.7 1235.0,420.0C1241.6,410.3 1249.5,398.3 1254.7,390.8C1260.0,383.3 1262.4,380.7 1266.5,375.0C1270.6,369.3 1274.7,362.6 1279.3,356.4C1283.9,350.2 1284.5,345.9 1294.0,337.7C1303.5,329.5 1325.4,313.3 1336.0,307.4C1346.6,301.5 1349.2,302.3 1357.6,302.2C1366.0,302.1 1375.6,304.4 1386.3,306.6C1397.1,308.9 1410.3,313.4 1422.3,315.5C1434.2,317.6 1446.2,319.2 1458.2,319.2C1470.2,319.2 1482.2,317.6 1494.1,315.5C1506.1,313.4 1519.3,308.9 1530.1,306.6C1540.8,304.4 1550.4,302.1 1558.8,302.2C1567.2,302.3 1573.5,304.5 1580.4,307.4C1587.2,310.3 1594.6,314.9 1600.0,319.5C1605.4,324.1 1608.3,327.9 1613.0,334.7C1617.7,341.4 1623.4,351.6 1628.0,360.0C1632.6,368.4 1636.6,376.9 1640.8,385.4C1645.0,393.9 1649.2,401.5 1653.4,410.8C1657.6,420.1 1663.9,436.0 1666.0,441.0" fill="none" stroke="#fff" stroke-width="90" stroke-opacity="0.11" stroke-linecap="round" stroke-linejoin="round" filter="url(#bb25)" />
<path d="M1307.3,327.3C1312.1,323.4 1327.1,308.6 1336.0,303.7C1345.0,298.8 1351.6,297.8 1361.2,297.8C1370.8,297.8 1382.1,301.5 1393.5,303.7C1404.9,305.9 1418.7,309.4 1429.5,311.1C1440.2,312.8 1448.6,314.0 1458.2,314.0C1467.8,314.0 1476.2,312.8 1486.9,311.1C1497.7,309.4 1511.5,305.9 1522.9,303.7C1534.3,301.5 1545.6,297.8 1555.2,297.8C1564.8,297.8 1571.4,298.8 1580.4,303.7C1589.3,308.6 1604.3,323.4 1609.1,327.3" fill="none" stroke="#fff" stroke-width="48" stroke-opacity="0.22" stroke-linecap="round" stroke-linejoin="round" filter="url(#bb12)" />
<path d="M1172.0,550.0C1174.8,543.3 1184.0,521.8 1189.0,510.0C1194.0,498.2 1197.7,489.2 1202.0,479.0C1206.3,468.8 1209.5,458.8 1215.0,449.0C1220.5,439.2 1228.4,429.7 1235.0,420.0C1241.6,410.3 1249.5,398.3 1254.7,390.8C1260.0,383.3 1262.4,380.7 1266.5,375.0C1270.6,369.3 1274.7,362.6 1279.3,356.4C1283.9,350.2 1286.9,343.7 1294.0,337.7C1301.1,331.7 1312.3,324.6 1321.7,320.7C1331.1,316.7 1339.6,314.9 1350.4,314.0C1361.2,313.2 1374.4,314.8 1386.3,315.5C1398.3,316.3 1410.3,317.7 1422.3,318.5C1434.2,319.2 1446.2,319.9 1458.2,319.9C1470.2,319.9 1482.2,319.2 1494.1,318.5C1506.1,317.7 1518.1,316.3 1530.1,315.5C1542.0,314.8 1555.2,313.2 1566.0,314.0C1576.8,314.9 1589.1,319.4 1594.7,320.7C1600.4,322.0 1597.0,319.0 1600.0,322.0C1603.0,325.0 1607.8,332.1 1613.0,338.5C1618.2,344.9 1625.7,351.6 1631.0,360.6C1636.3,369.6 1642.7,387.4 1645.0,392.7" fill="none" stroke="#fff" stroke-width="34" stroke-opacity="0.2" stroke-linecap="round" stroke-linejoin="round" filter="url(#bb8)" />
<path d="M1172.0,550.0C1174.8,543.3 1184.0,521.8 1189.0,510.0C1194.0,498.2 1197.7,489.2 1202.0,479.0C1206.3,468.8 1209.5,458.8 1215.0,449.0C1220.5,439.2 1228.4,429.7 1235.0,420.0C1241.6,410.3 1249.5,398.3 1254.7,390.8C1260.0,383.3 1262.4,380.7 1266.5,375.0C1270.6,369.3 1274.7,362.6 1279.3,356.4C1283.9,350.2 1286.9,343.7 1294.0,337.7C1301.1,331.7 1312.3,324.6 1321.7,320.7C1331.1,316.7 1339.6,314.9 1350.4,314.0C1361.2,313.2 1374.4,314.8 1386.3,315.5C1398.3,316.3 1410.3,317.7 1422.3,318.5C1434.2,319.2 1446.2,319.9 1458.2,319.9C1470.2,319.9 1482.2,319.2 1494.1,318.5C1506.1,317.7 1518.1,316.3 1530.1,315.5C1542.0,314.8 1555.2,313.2 1566.0,314.0C1576.8,314.9 1589.1,319.4 1594.7,320.7C1600.4,322.0 1597.0,319.0 1600.0,322.0C1603.0,325.0 1607.8,332.1 1613.0,338.5C1618.2,344.9 1625.7,351.6 1631.0,360.6C1636.3,369.6 1642.7,387.4 1645.0,392.7" fill="none" stroke="url(#gC1)" stroke-width="17" stroke-linecap="butt" stroke-linejoin="round" filter="url(#bb5)"/>
<path d="M1172.0,550.0C1174.8,543.3 1184.0,521.8 1189.0,510.0C1194.0,498.2 1197.7,489.2 1202.0,479.0C1206.3,468.8 1209.5,458.8 1215.0,449.0C1220.5,439.2 1228.4,429.7 1235.0,420.0C1241.6,410.3 1249.5,398.3 1254.7,390.8C1260.0,383.3 1262.4,380.7 1266.5,375.0C1270.6,369.3 1274.7,362.6 1279.3,356.4C1283.9,350.2 1286.9,343.7 1294.0,337.7C1301.1,331.7 1312.3,324.6 1321.7,320.7C1331.1,316.7 1339.6,314.9 1350.4,314.0C1361.2,313.2 1374.4,314.8 1386.3,315.5C1398.3,316.3 1410.3,317.7 1422.3,318.5C1434.2,319.2 1446.2,319.9 1458.2,319.9C1470.2,319.9 1482.2,319.2 1494.1,318.5C1506.1,317.7 1518.1,316.3 1530.1,315.5C1542.0,314.8 1555.2,313.2 1566.0,314.0C1576.8,314.9 1589.1,319.4 1594.7,320.7C1600.4,322.0 1597.0,319.0 1600.0,322.0C1603.0,325.0 1607.8,332.1 1613.0,338.5C1618.2,344.9 1625.7,351.6 1631.0,360.6C1636.3,369.6 1642.7,387.4 1645.0,392.7" fill="none" stroke="url(#gC2)" stroke-width="9" stroke-linecap="butt" stroke-linejoin="round" filter="url(#bb3)"/>
<ellipse cx="1236.0" cy="400.0" rx="40" ry="24" fill="#fff" fill-opacity="0.26" transform="rotate(-58 1236.0 400.0)" filter="url(#bb10)"/>
<ellipse cx="1212.0" cy="452.0" rx="34" ry="20" fill="#fff" fill-opacity="0.2" transform="rotate(-62 1212.0 452.0)" filter="url(#bb10)"/>
<path d="M1241.0,353.0C1239.5,358.3 1235.2,373.8 1232.0,385.0C1228.8,396.2 1226.0,407.5 1222.0,420.0C1218.0,432.5 1210.3,453.3 1208.0,460.0" fill="none" stroke="#fff" stroke-width="12" stroke-opacity="0.14" stroke-linecap="round" stroke-linejoin="round" filter="url(#bb5)" />
<path d="M1397.1,317.7C1401.3,318.0 1412.1,318.8 1422.3,319.2C1432.5,319.6 1446.2,320.3 1458.2,320.3C1470.2,320.3 1483.9,319.6 1494.1,319.2C1504.3,318.8 1515.1,318.0 1519.3,317.7" fill="none" stroke="#fff" stroke-width="5" stroke-opacity="0.22" stroke-linecap="round" stroke-linejoin="round" filter="url(#bb3)" />
<ellipse cx="1319.0" cy="319.0" rx="11" ry="5.5" fill="#fff" fill-opacity="0.45" transform="rotate(-30 1319.0 319.0)" filter="url(#bb3)"/>
<ellipse cx="1295.0" cy="338.0" rx="11" ry="5.5" fill="#fff" fill-opacity="0.42" transform="rotate(-50 1295.0 338.0)" filter="url(#bb3)"/>
<ellipse cx="1280.0" cy="357.0" rx="11" ry="5.5" fill="#fff" fill-opacity="0.4" transform="rotate(-55 1280.0 357.0)" filter="url(#bb3)"/>
<ellipse cx="1267.0" cy="377.0" rx="11" ry="5.5" fill="#fff" fill-opacity="0.3" transform="rotate(-58 1267.0 377.0)" filter="url(#bb3)"/>
<ellipse cx="1215.0" cy="449.0" rx="11" ry="5.5" fill="#fff" fill-opacity="0.42" transform="rotate(-60 1215.0 449.0)" filter="url(#bb3)"/>
<ellipse cx="1203.0" cy="483.0" rx="11" ry="5.5" fill="#fff" fill-opacity="0.3" transform="rotate(-65 1203.0 483.0)" filter="url(#bb3)"/>
<ellipse cx="1190.0" cy="512.0" rx="11" ry="5.5" fill="#fff" fill-opacity="0.2" transform="rotate(-70 1190.0 512.0)" filter="url(#bb3)"/>
<ellipse cx="1591.0" cy="318.5" rx="12" ry="5.5" fill="#fff" fill-opacity="0.45" transform="rotate(20 1591.0 318.5)" filter="url(#bb3)"/>
<ellipse cx="1611.0" cy="337.0" rx="12" ry="5.5" fill="#fff" fill-opacity="0.4" transform="rotate(48 1611.0 337.0)" filter="url(#bb3)"/>
<ellipse cx="1629.0" cy="360.0" rx="12" ry="5.5" fill="#fff" fill-opacity="0.22" transform="rotate(55 1629.0 360.0)" filter="url(#bb3)"/>
<ellipse cx="1645.0" cy="392.0" rx="12" ry="5.5" fill="#fff" fill-opacity="0.18" transform="rotate(62 1645.0 392.0)" filter="url(#bb3)"/>
</g></g>
<line x1="1189.70" y1="393.90" x2="1727.70" y2="393.90" stroke="#fff" stroke-width="3.8" stroke-dasharray="4.0 3.5"/>
<line x1="1458.20" y1="98.20" x2="1458.20" y2="689.70" stroke="#fff" stroke-width="4.0" stroke-dasharray="4.0 3.5"/>
<line x1="1456.20" y1="135.00" x2="1258.00" y2="135.00" stroke="#fff" stroke-width="4" stroke-dasharray="8.0 3.7" stroke-dashoffset="5"/>
<polygon points="1246.3,135.0 1262.8,125.5 1262.8,144.5" fill="#fff"/>
<line x1="1458.20" y1="135.00" x2="1655.00" y2="135.00" stroke="#fff" stroke-width="4.0" />
<polygon points="1669.5,135.0 1653.0,144.5 1653.0,125.5" fill="#fff"/>
<text transform="translate(1204.50,143.40) scale(0.945,1.075)" text-anchor="start" font-size="24.5" fill="#fff" font-weight="bold">Q1</text>
<text transform="translate(1675.00,143.60) scale(0.945,1.075)" text-anchor="start" font-size="24.5" fill="#fff" font-weight="bold">Q2</text>
<text x="1366.50" y="278.50" text-anchor="middle" font-size="24" fill="#fff" font-weight="normal" font-style="normal" >S</text>
<text x="1668.00" y="211.50" text-anchor="middle" font-size="24" fill="#fff" font-weight="normal" font-style="normal" >B</text>
<rect x="1188.7" y="98.09999999999997" width="539.0" height="591.6000000000001" fill="none" stroke="#000" stroke-width="2.5"/>
<line x1="1188.70" y1="689.70" x2="1176.20" y2="689.70" stroke="#000" stroke-width="2.5" />
<line x1="1188.70" y1="615.75" x2="1176.20" y2="615.75" stroke="#000" stroke-width="2.5" />
<line x1="1188.70" y1="541.80" x2="1176.20" y2="541.80" stroke="#000" stroke-width="2.5" />
<line x1="1188.70" y1="467.85" x2="1176.20" y2="467.85" stroke="#000" stroke-width="2.5" />
<line x1="1188.70" y1="393.90" x2="1176.20" y2="393.90" stroke="#000" stroke-width="2.5" />
<line x1="1188.70" y1="319.95" x2="1176.20" y2="319.95" stroke="#000" stroke-width="2.5" />
<line x1="1188.70" y1="246.00" x2="1176.20" y2="246.00" stroke="#000" stroke-width="2.5" />
<line x1="1188.70" y1="172.05" x2="1176.20" y2="172.05" stroke="#000" stroke-width="2.5" />
<line x1="1188.70" y1="98.10" x2="1176.20" y2="98.10" stroke="#000" stroke-width="2.5" />
<line x1="1188.70" y1="652.73" x2="1182.00" y2="652.73" stroke="#000" stroke-width="2.5" />
<line x1="1188.70" y1="578.77" x2="1182.00" y2="578.77" stroke="#000" stroke-width="2.5" />
<line x1="1188.70" y1="504.82" x2="1182.00" y2="504.82" stroke="#000" stroke-width="2.5" />
<line x1="1188.70" y1="430.88" x2="1182.00" y2="430.88" stroke="#000" stroke-width="2.5" />
<line x1="1188.70" y1="356.92" x2="1182.00" y2="356.92" stroke="#000" stroke-width="2.5" />
<line x1="1188.70" y1="282.97" x2="1182.00" y2="282.97" stroke="#000" stroke-width="2.5" />
<line x1="1188.70" y1="209.02" x2="1182.00" y2="209.02" stroke="#000" stroke-width="2.5" />
<line x1="1188.70" y1="135.07" x2="1182.00" y2="135.07" stroke="#000" stroke-width="2.5" />
<line x1="1727.70" y1="689.70" x2="1715.20" y2="689.70" stroke="#000" stroke-width="2.5" />
<line x1="1727.70" y1="615.75" x2="1715.20" y2="615.75" stroke="#000" stroke-width="2.5" />
<line x1="1727.70" y1="541.80" x2="1715.20" y2="541.80" stroke="#000" stroke-width="2.5" />
<line x1="1727.70" y1="467.85" x2="1715.20" y2="467.85" stroke="#000" stroke-width="2.5" />
<line x1="1727.70" y1="319.95" x2="1715.20" y2="319.95" stroke="#000" stroke-width="2.5" />
<line x1="1727.70" y1="246.00" x2="1715.20" y2="246.00" stroke="#000" stroke-width="2.5" />
<line x1="1727.70" y1="172.05" x2="1715.20" y2="172.05" stroke="#000" stroke-width="2.5" />
<line x1="1727.70" y1="98.10" x2="1715.20" y2="98.10" stroke="#000" stroke-width="2.5" />
<line x1="1727.70" y1="652.73" x2="1721.00" y2="652.73" stroke="#000" stroke-width="2.5" />
<line x1="1727.70" y1="578.77" x2="1721.00" y2="578.77" stroke="#000" stroke-width="2.5" />
<line x1="1727.70" y1="504.82" x2="1721.00" y2="504.82" stroke="#000" stroke-width="2.5" />
<line x1="1727.70" y1="430.88" x2="1721.00" y2="430.88" stroke="#000" stroke-width="2.5" />
<line x1="1727.70" y1="356.92" x2="1721.00" y2="356.92" stroke="#000" stroke-width="2.5" />
<line x1="1727.70" y1="282.97" x2="1721.00" y2="282.97" stroke="#000" stroke-width="2.5" />
<line x1="1727.70" y1="209.02" x2="1721.00" y2="209.02" stroke="#000" stroke-width="2.5" />
<line x1="1727.70" y1="135.07" x2="1721.00" y2="135.07" stroke="#000" stroke-width="2.5" />
<line x1="1242.62" y1="98.10" x2="1242.62" y2="110.60" stroke="#000" stroke-width="2.5" />
<line x1="1314.48" y1="98.10" x2="1314.48" y2="110.60" stroke="#000" stroke-width="2.5" />
<line x1="1386.34" y1="98.10" x2="1386.34" y2="110.60" stroke="#000" stroke-width="2.5" />
<line x1="1530.06" y1="98.10" x2="1530.06" y2="110.60" stroke="#000" stroke-width="2.5" />
<line x1="1601.92" y1="98.10" x2="1601.92" y2="110.60" stroke="#000" stroke-width="2.5" />
<line x1="1673.78" y1="98.10" x2="1673.78" y2="110.60" stroke="#000" stroke-width="2.5" />
<line x1="1206.69" y1="98.10" x2="1206.69" y2="104.80" stroke="#000" stroke-width="2.5" />
<line x1="1278.55" y1="98.10" x2="1278.55" y2="104.80" stroke="#000" stroke-width="2.5" />
<line x1="1350.41" y1="98.10" x2="1350.41" y2="104.80" stroke="#000" stroke-width="2.5" />
<line x1="1422.27" y1="98.10" x2="1422.27" y2="104.80" stroke="#000" stroke-width="2.5" />
<line x1="1494.13" y1="98.10" x2="1494.13" y2="104.80" stroke="#000" stroke-width="2.5" />
<line x1="1565.99" y1="98.10" x2="1565.99" y2="104.80" stroke="#000" stroke-width="2.5" />
<line x1="1637.85" y1="98.10" x2="1637.85" y2="104.80" stroke="#000" stroke-width="2.5" />
<line x1="1709.71" y1="98.10" x2="1709.71" y2="104.80" stroke="#000" stroke-width="2.5" />
<line x1="1242.62" y1="689.70" x2="1242.62" y2="702.20" stroke="#000" stroke-width="2.5" />
<line x1="1314.48" y1="689.70" x2="1314.48" y2="702.20" stroke="#000" stroke-width="2.5" />
<line x1="1386.34" y1="689.70" x2="1386.34" y2="702.20" stroke="#000" stroke-width="2.5" />
<line x1="1458.20" y1="689.70" x2="1458.20" y2="702.20" stroke="#000" stroke-width="2.5" />
<line x1="1530.06" y1="689.70" x2="1530.06" y2="702.20" stroke="#000" stroke-width="2.5" />
<line x1="1601.92" y1="689.70" x2="1601.92" y2="702.20" stroke="#000" stroke-width="2.5" />
<line x1="1673.78" y1="689.70" x2="1673.78" y2="702.20" stroke="#000" stroke-width="2.5" />
<line x1="1206.69" y1="689.70" x2="1206.69" y2="696.40" stroke="#000" stroke-width="2.5" />
<line x1="1278.55" y1="689.70" x2="1278.55" y2="696.40" stroke="#000" stroke-width="2.5" />
<line x1="1350.41" y1="689.70" x2="1350.41" y2="696.40" stroke="#000" stroke-width="2.5" />
<line x1="1422.27" y1="689.70" x2="1422.27" y2="696.40" stroke="#000" stroke-width="2.5" />
<line x1="1494.13" y1="689.70" x2="1494.13" y2="696.40" stroke="#000" stroke-width="2.5" />
<line x1="1565.99" y1="689.70" x2="1565.99" y2="696.40" stroke="#000" stroke-width="2.5" />
<line x1="1637.85" y1="689.70" x2="1637.85" y2="696.40" stroke="#000" stroke-width="2.5" />
<line x1="1709.71" y1="689.70" x2="1709.71" y2="696.40" stroke="#000" stroke-width="2.5" />
<text x="1164.00" y="698.60" text-anchor="end" font-size="25.0" fill="#000" font-weight="normal" font-style="normal" >−0.4</text>
<text x="1164.00" y="624.65" text-anchor="end" font-size="25.0" fill="#000" font-weight="normal" font-style="normal" >−0.3</text>
<text x="1164.00" y="550.70" text-anchor="end" font-size="25.0" fill="#000" font-weight="normal" font-style="normal" >−0.2</text>
<text x="1164.00" y="476.75" text-anchor="end" font-size="25.0" fill="#000" font-weight="normal" font-style="normal" >−0.1</text>
<text x="1164.00" y="402.80" text-anchor="end" font-size="25.0" fill="#000" font-weight="normal" font-style="normal" >0.0</text>
<text x="1164.00" y="328.85" text-anchor="end" font-size="25.0" fill="#000" font-weight="normal" font-style="normal" >0.1</text>
<text x="1164.00" y="254.90" text-anchor="end" font-size="25.0" fill="#000" font-weight="normal" font-style="normal" >0.2</text>
<text x="1164.00" y="180.95" text-anchor="end" font-size="25.0" fill="#000" font-weight="normal" font-style="normal" >0.3</text>
<text x="1164.00" y="107.00" text-anchor="end" font-size="25.0" fill="#000" font-weight="normal" font-style="normal" >0.4</text>
<text x="1242.62" y="732.90" text-anchor="middle" font-size="25.0" fill="#000" font-weight="normal" font-style="normal" >−0.6</text>
<text x="1314.48" y="732.90" text-anchor="middle" font-size="25.0" fill="#000" font-weight="normal" font-style="normal" >−0.4</text>
<text x="1386.34" y="732.90" text-anchor="middle" font-size="25.0" fill="#000" font-weight="normal" font-style="normal" >−0.2</text>
<text x="1458.20" y="732.90" text-anchor="middle" font-size="25.0" fill="#000" font-weight="normal" font-style="normal" >0.0</text>
<text x="1530.06" y="732.90" text-anchor="middle" font-size="25.0" fill="#000" font-weight="normal" font-style="normal" >0.2</text>
<text x="1601.92" y="732.90" text-anchor="middle" font-size="25.0" fill="#000" font-weight="normal" font-style="normal" >0.4</text>
<text x="1673.78" y="732.90" text-anchor="middle" font-size="25.0" fill="#000" font-weight="normal" font-style="normal" >0.6</text>
<text x="1457.7" y="774.2" text-anchor="middle" font-size="25.0"><tspan font-style="italic">k</tspan> (1/nm)</text>
<text transform="translate(1096.5,388) rotate(-90)" text-anchor="middle" font-size="25.0"><tspan font-style="italic">E</tspan> − <tspan font-style="italic">E</tspan><tspan font-size="16.5" dy="7.5">F</tspan><tspan dy="-7.5"> (eV)</tspan></text>
<rect x="1742.4" y="97.9" width="50.0" height="592.7" fill="url(#cbar)" stroke="#000" stroke-width="1.3"/>
<text transform="translate(1766.20,140.90) scale(1.03,1.075)" text-anchor="middle" font-size="24.5" fill="#000" font-weight="bold">HI</text>
<text transform="translate(1765.90,668.40) scale(1.03,1.075)" text-anchor="middle" font-size="24.5" fill="#fff" font-weight="bold">LO</text>
</g>
<g id="panel-c">
<text x="0.20" y="844.60" text-anchor="start" font-size="41.3" fill="#000" font-weight="bold" font-style="normal" >c</text>
<defs>
<filter id="hotC" color-interpolation-filters="sRGB" filterUnits="userSpaceOnUse" x="155.6" y="842.4" width="645.0" height="645.0000000000001">
<feComponentTransfer><feFuncR type="table" tableValues="0.030 0.108 0.186 0.265 0.343 0.421 0.499 0.578 0.656 0.734 0.812 0.890 0.969 1.000 1.000 1.000 1.000 1.000 1.000 1.000 1.000 1.000 1.000 1.000 1.000 1.000 1.000 1.000 1.000 1.000 1.000 1.000 1.000 1.000 1.000 1.000 1.000 1.000 1.000 1.000 1.000"/><feFuncG type="table" tableValues="0.000 0.000 0.000 0.000 0.000 0.000 0.000 0.000 0.000 0.000 0.000 0.000 0.000 0.038 0.103 0.167 0.231 0.295 0.359 0.423 0.487 0.551 0.615 0.679 0.744 0.808 0.872 0.936 1.000 1.000 1.000 1.000 1.000 1.000 1.000 1.000 1.000 1.000 1.000 1.000 1.000"/><feFuncB type="table" tableValues="0.000 0.000 0.000 0.000 0.000 0.000 0.000 0.000 0.000 0.000 0.000 0.000 0.000 0.000 0.000 0.000 0.000 0.000 0.000 0.000 0.000 0.000 0.000 0.000 0.000 0.000 0.000 0.000 0.000 0.081 0.162 0.243 0.323 0.404 0.485 0.566 0.647 0.728 0.808 0.889 0.970"/></feComponentTransfer></filter>
<filter id="cb1_5" color-interpolation-filters="sRGB" filterUnits="userSpaceOnUse" x="77.6" y="764.4" width="801.0" height="801.0000000000001"><feGaussianBlur stdDeviation="1.5"/></filter>
<filter id="cb2" color-interpolation-filters="sRGB" filterUnits="userSpaceOnUse" x="77.6" y="764.4" width="801.0" height="801.0000000000001"><feGaussianBlur stdDeviation="2"/></filter>
<filter id="cb3" color-interpolation-filters="sRGB" filterUnits="userSpaceOnUse" x="77.6" y="764.4" width="801.0" height="801.0000000000001"><feGaussianBlur stdDeviation="3"/></filter>
<filter id="cb5" color-interpolation-filters="sRGB" filterUnits="userSpaceOnUse" x="77.6" y="764.4" width="801.0" height="801.0000000000001"><feGaussianBlur stdDeviation="5"/></filter>
<filter id="cb8" color-interpolation-filters="sRGB" filterUnits="userSpaceOnUse" x="77.6" y="764.4" width="801.0" height="801.0000000000001"><feGaussianBlur stdDeviation="8"/></filter>
<filter id="cb12" color-interpolation-filters="sRGB" filterUnits="userSpaceOnUse" x="77.6" y="764.4" width="801.0" height="801.0000000000001"><feGaussianBlur stdDeviation="12"/></filter>
<filter id="cb20" color-interpolation-filters="sRGB" filterUnits="userSpaceOnUse" x="77.6" y="764.4" width="801.0" height="801.0000000000001"><feGaussianBlur stdDeviation="20"/></filter>
<filter id="cb30" color-interpolation-filters="sRGB" filterUnits="userSpaceOnUse" x="77.6" y="764.4" width="801.0" height="801.0000000000001"><feGaussianBlur stdDeviation="30"/></filter>
<clipPath id="clipC"><rect x="157.6" y="844.4" width="641.0" height="641.0000000000001"/></clipPath>
<filter id="noiseC" color-interpolation-filters="sRGB" filterUnits="userSpaceOnUse" x="155.6" y="842.4" width="645.0" height="645.0000000000001">
<feTurbulence type="fractalNoise" baseFrequency="0.1" numOctaves="2" seed="7" result="n"/>
<feColorMatrix in="n" type="matrix" values="1.7 0 0 0 -0.35  1.7 0 0 0 -0.35  1.7 0 0 0 -0.35  0 0 0 0 1" result="n2"/>
<feGaussianBlur in="n2" stdDeviation="1.4" result="n3"/>
<feComposite in="SourceGraphic" in2="n3" operator="arithmetic" k1="1.36" k2="0.32" k3="0" k4="0"/>
</filter>
<filter id="noiseC2" color-interpolation-filters="sRGB" filterUnits="userSpaceOnUse" x="155.6" y="842.4" width="645.0" height="645.0000000000001">
<feTurbulence type="fractalNoise" baseFrequency="0.12" numOctaves="2" seed="3" result="n"/>
<feColorMatrix in="n" type="matrix" values="1.6 0 0 0 -0.30000000000000004  1.6 0 0 0 -0.30000000000000004  1.6 0 0 0 -0.30000000000000004  0 0 0 0 1" result="n2"/>
<feGaussianBlur in="n2" stdDeviation="1.0" result="n3"/>
<feComposite in="SourceGraphic" in2="n3" operator="arithmetic" k1="0.7" k2="0.65" k3="0" k4="0"/>
</filter>
<filter id="noiseC3" color-interpolation-filters="sRGB" filterUnits="userSpaceOnUse" x="155.6" y="842.4" width="645.0" height="645.0000000000001">
<feTurbulence type="fractalNoise" baseFrequency="0.2 0.08" numOctaves="2" seed="11" result="n"/>
<feColorMatrix in="n" type="matrix" values="2.4 0 0 0 -0.7  2.4 0 0 0 -0.7  2.4 0 0 0 -0.7  0 0 0 0 1" result="n2"/>
<feGaussianBlur in="n2" stdDeviation="1.0" result="n3"/>
<feComposite in="SourceGraphic" in2="n3" operator="arithmetic" k1="1.6" k2="0.2" k3="0" k4="0"/>
</filter>
<radialGradient id="cenv" gradientUnits="userSpaceOnUse" cx="478.4" cy="1165.3" r="340"><stop offset="0.000" stop-color="#fff" stop-opacity="0.42"/><stop offset="0.059" stop-color="#fff" stop-opacity="0.38"/><stop offset="0.132" stop-color="#fff" stop-opacity="0.29"/><stop offset="0.265" stop-color="#fff" stop-opacity="0.19"/><stop offset="0.441" stop-color="#fff" stop-opacity="0.11"/><stop offset="0.662" stop-color="#fff" stop-opacity="0.085"/><stop offset="0.721" stop-color="#fff" stop-opacity="0.065"/><stop offset="0.809" stop-color="#fff" stop-opacity="0.04"/><stop offset="0.912" stop-color="#fff" stop-opacity="0.012"/><stop offset="1.000" stop-color="#fff" stop-opacity="0"/></radialGradient>
<radialGradient id="ccen" gradientUnits="userSpaceOnUse" cx="476" cy="1166" r="55"><stop offset="0" stop-color="#fff" stop-opacity="0.92"/><stop offset="0.12" stop-color="#fff" stop-opacity="0.48"/><stop offset="0.4" stop-color="#fff" stop-opacity="0.16"/><stop offset="1" stop-color="#fff" stop-opacity="0"/></radialGradient>
</defs>
<g clip-path="url(#clipC)"><g filter="url(#hotC)">
<rect x="152.6" y="839.4" width="651.0" height="651.0000000000001" fill="#000"/>
<g filter="url(#noiseC)">
<rect x="152.6" y="839.4" width="651.0" height="651.0000000000001" fill="#000"/>
<rect x="157.6" y="844.4" width="641.0" height="641.0000000000001" fill="url(#cenv)"/>
<path d="M478.4,944.2C489.6,944.3 500.3,945.2 510.8,945.7C521.2,946.2 532.1,946.4 541.2,947.1C550.4,947.8 558.8,948.6 565.6,949.7C572.3,950.8 576.4,951.9 581.9,953.8C587.3,955.7 593.3,958.0 598.1,960.9C602.8,963.8 606.2,967.0 610.2,971.0C614.3,975.0 618.6,980.5 622.4,985.2C626.1,989.9 629.2,994.3 632.5,999.4C635.9,1004.5 639.3,1009.9 642.7,1015.7C646.0,1021.4 649.5,1027.8 652.9,1033.9C656.2,1040.0 659.6,1046.1 663.0,1052.2C666.3,1058.3 670.1,1064.8 673.2,1070.5C676.2,1076.2 678.5,1081.0 681.2,1086.7C684.0,1092.4 686.6,1098.8 689.4,1104.9C692.1,1111.0 695.1,1117.5 697.5,1123.2C699.8,1129.0 701.8,1134.3 703.5,1139.4C705.2,1144.5 706.8,1149.5 707.7,1153.7C708.5,1157.9 708.8,1160.2 708.7,1164.8C708.5,1169.3 707.7,1175.2 706.7,1181.0C705.6,1186.8 704.4,1193.2 702.5,1199.3C700.7,1205.4 698.2,1211.2 695.5,1217.6C692.8,1224.0 689.6,1231.5 686.4,1237.9C683.1,1244.3 679.7,1250.0 676.2,1256.1C672.6,1262.2 668.8,1268.6 665.0,1274.4C661.3,1280.1 657.6,1285.2 653.9,1290.6C650.1,1296.0 646.6,1301.0 642.8,1306.8C638.9,1312.5 634.6,1319.3 630.5,1325.1C626.5,1330.8 622.8,1335.5 618.4,1341.3C614.0,1347.0 608.9,1354.2 604.1,1359.6C599.4,1365.0 594.7,1370.2 590.0,1373.8C585.2,1377.3 581.2,1379.4 575.8,1380.9C570.3,1382.4 566.6,1382.3 557.5,1382.9C548.3,1383.5 534.1,1384.0 521.0,1384.4C507.8,1384.8 491.3,1385.0 478.4,1385.0C465.4,1385.0 454.3,1384.8 443.5,1384.4C432.6,1384.0 422.5,1383.6 413.1,1382.9C403.6,1382.1 394.1,1381.4 386.7,1379.9C379.2,1378.4 373.8,1376.2 368.4,1373.8C362.9,1371.4 358.6,1369.1 354.2,1365.7C349.8,1362.3 346.0,1358.2 342.0,1353.5C337.9,1348.8 333.6,1342.4 329.9,1337.3C326.1,1332.2 323.0,1328.2 319.7,1323.1C316.3,1318.0 312.9,1312.5 309.6,1306.8C306.2,1301.0 302.7,1294.7 299.4,1288.6C296.0,1282.5 292.6,1276.4 289.2,1270.3C285.9,1264.2 282.4,1258.2 279.1,1252.1C275.7,1246.0 272.2,1239.9 269.0,1233.8C265.8,1227.7 262.6,1221.6 259.9,1215.5C257.2,1209.4 254.8,1203.4 252.8,1197.3C250.7,1191.2 249.1,1184.4 247.7,1179.0C246.2,1173.6 244.5,1169.4 244.2,1164.8C243.8,1160.2 244.5,1156.5 245.6,1151.6C246.6,1146.7 248.6,1140.8 250.7,1135.4C252.7,1130.0 255.4,1124.2 257.8,1119.1C260.1,1114.0 262.3,1110.0 264.9,1104.9C267.4,1099.8 270.2,1094.1 273.0,1088.7C275.7,1083.3 278.4,1077.2 281.2,1072.5C283.9,1067.8 286.2,1065.0 289.2,1060.3C292.3,1055.6 296.0,1049.5 299.4,1044.1C302.7,1038.7 306.2,1033.5 309.6,1027.8C312.9,1022.0 315.9,1015.7 319.7,1009.6C323.4,1003.5 327.8,997.0 331.9,991.3C335.9,985.5 340.0,980.0 344.1,975.1C348.1,970.2 352.4,965.1 356.2,961.9C359.9,958.7 362.6,957.5 366.4,955.8C370.1,954.1 374.2,952.9 378.6,951.7C382.9,950.5 387.0,949.5 392.8,948.7C398.5,947.9 404.6,947.7 413.1,947.1C421.5,946.5 432.6,945.5 443.5,945.0C454.3,944.5 467.1,944.1 478.4,944.2Z" fill="#fff" fill-opacity="0.08" filter="url(#cb5)"/>
<ellipse cx="705" cy="1110" rx="40" ry="190" fill="#fff" fill-opacity="0.035" filter="url(#cb20)"/>
<ellipse cx="478" cy="920" rx="150" ry="35" fill="#fff" fill-opacity="0.03" filter="url(#cb20)"/>
</g>
<circle cx="476" cy="1166" r="55" fill="url(#ccen)"/>
<g filter="url(#noiseC3)">
<rect x="152.6" y="839.4" width="651.0" height="651.0000000000001" fill="#000" fill-opacity="0"/>
<line x1="178" y1="844.4" x2="167" y2="1485.4" stroke="#fff" stroke-opacity="0.050" stroke-width="6" filter="url(#cb2)"/>
<line x1="178" y1="847.4" x2="167" y2="1485.4" stroke="#fff" stroke-opacity="0.080" stroke-width="7" stroke-dasharray="6 9" stroke-linecap="round" filter="url(#cb2)"/>
<line x1="216" y1="844.4" x2="205" y2="1485.4" stroke="#fff" stroke-opacity="0.065" stroke-width="7" filter="url(#cb2)"/>
<line x1="216" y1="850.4" x2="205" y2="1485.4" stroke="#fff" stroke-opacity="0.104" stroke-width="8" stroke-dasharray="6 7" stroke-linecap="round" filter="url(#cb2)"/>
<line x1="279" y1="844.4" x2="268" y2="1485.4" stroke="#fff" stroke-opacity="0.020" stroke-width="5" filter="url(#cb2)"/>
<line x1="279" y1="850.4" x2="268" y2="1485.4" stroke="#fff" stroke-opacity="0.032" stroke-width="6" stroke-dasharray="6 10" stroke-linecap="round" filter="url(#cb2)"/>
<line x1="322" y1="844.4" x2="311" y2="1485.4" stroke="#fff" stroke-opacity="0.037" stroke-width="5" filter="url(#cb2)"/>
<line x1="322" y1="844.4" x2="311" y2="1485.4" stroke="#fff" stroke-opacity="0.060" stroke-width="6" stroke-dasharray="6 8" stroke-linecap="round" filter="url(#cb2)"/>
<line x1="371" y1="844.4" x2="362" y2="1485.4" stroke="#fff" stroke-opacity="0.030" stroke-width="5" filter="url(#cb2)"/>
<line x1="371" y1="844.4" x2="362" y2="1485.4" stroke="#fff" stroke-opacity="0.048" stroke-width="6" stroke-dasharray="6 7" stroke-linecap="round" filter="url(#cb2)"/>
<line x1="420" y1="844.4" x2="412" y2="1485.4" stroke="#fff" stroke-opacity="0.015" stroke-width="5" filter="url(#cb2)"/>
<line x1="420" y1="844.4" x2="412" y2="1485.4" stroke="#fff" stroke-opacity="0.024" stroke-width="6" stroke-dasharray="6 6" stroke-linecap="round" filter="url(#cb2)"/>
<line x1="661" y1="844.4" x2="652" y2="1485.4" stroke="#fff" stroke-opacity="0.020" stroke-width="5" filter="url(#cb2)"/>
<line x1="661" y1="847.4" x2="652" y2="1485.4" stroke="#fff" stroke-opacity="0.032" stroke-width="6" stroke-dasharray="6 7" stroke-linecap="round" filter="url(#cb2)"/>
<line x1="700" y1="844.4" x2="690" y2="1485.4" stroke="#fff" stroke-opacity="0.030" stroke-width="5" filter="url(#cb2)"/>
<line x1="700" y1="844.4" x2="690" y2="1485.4" stroke="#fff" stroke-opacity="0.048" stroke-width="6" stroke-dasharray="6 6" stroke-linecap="round" filter="url(#cb2)"/>
<line x1="760.5" y1="844.4" x2="745" y2="1485.4" stroke="#fff" stroke-opacity="0.050" stroke-width="6" filter="url(#cb2)"/>
<line x1="760.5" y1="848.9" x2="745" y2="1485.4" stroke="#fff" stroke-opacity="0.080" stroke-width="7" stroke-dasharray="6 6.5" stroke-linecap="round" filter="url(#cb2)"/>
<line x1="797" y1="844.4" x2="790" y2="1485.4" stroke="#fff" stroke-opacity="0.050" stroke-width="6" filter="url(#cb2)"/>
<line x1="797" y1="850.4" x2="790" y2="1485.4" stroke="#fff" stroke-opacity="0.080" stroke-width="7" stroke-dasharray="6 8" stroke-linecap="round" filter="url(#cb2)"/>
<line x1="640" y1="844.4" x2="634" y2="1485.4" stroke="#fff" stroke-opacity="0.010" stroke-width="5" filter="url(#cb2)"/>
<line x1="640" y1="847.4" x2="634" y2="1485.4" stroke="#fff" stroke-opacity="0.016" stroke-width="6" stroke-dasharray="6 6" stroke-linecap="round" filter="url(#cb2)"/>
</g>
<g filter="url(#noiseC2)">
<rect x="152.6" y="839.4" width="651.0" height="651.0000000000001" fill="#000" fill-opacity="0"/>
<path d="M478.4,944.2C489.6,944.3 500.3,945.2 510.8,945.7C521.2,946.2 532.1,946.4 541.2,947.1C550.4,947.8 558.8,948.6 565.6,949.7C572.3,950.8 576.4,951.9 581.9,953.8C587.3,955.7 593.3,958.0 598.1,960.9C602.8,963.8 606.2,967.0 610.2,971.0C614.3,975.0 618.6,980.5 622.4,985.2C626.1,989.9 629.2,994.3 632.5,999.4C635.9,1004.5 639.3,1009.9 642.7,1015.7C646.0,1021.4 649.5,1027.8 652.9,1033.9C656.2,1040.0 659.6,1046.1 663.0,1052.2C666.3,1058.3 670.1,1064.8 673.2,1070.5C676.2,1076.2 678.5,1081.0 681.2,1086.7C684.0,1092.4 686.6,1098.8 689.4,1104.9C692.1,1111.0 695.1,1117.5 697.5,1123.2C699.8,1129.0 701.8,1134.3 703.5,1139.4C705.2,1144.5 706.8,1149.5 707.7,1153.7C708.5,1157.9 708.8,1160.2 708.7,1164.8C708.5,1169.3 707.7,1175.2 706.7,1181.0C705.6,1186.8 704.4,1193.2 702.5,1199.3C700.7,1205.4 698.2,1211.2 695.5,1217.6C692.8,1224.0 689.6,1231.5 686.4,1237.9C683.1,1244.3 679.7,1250.0 676.2,1256.1C672.6,1262.2 668.8,1268.6 665.0,1274.4C661.3,1280.1 657.6,1285.2 653.9,1290.6C650.1,1296.0 646.6,1301.0 642.8,1306.8C638.9,1312.5 634.6,1319.3 630.5,1325.1C626.5,1330.8 622.8,1335.5 618.4,1341.3C614.0,1347.0 608.9,1354.2 604.1,1359.6C599.4,1365.0 594.7,1370.2 590.0,1373.8C585.2,1377.3 581.2,1379.4 575.8,1380.9C570.3,1382.4 566.6,1382.3 557.5,1382.9C548.3,1383.5 534.1,1384.0 521.0,1384.4C507.8,1384.8 491.3,1385.0 478.4,1385.0C465.4,1385.0 454.3,1384.8 443.5,1384.4C432.6,1384.0 422.5,1383.6 413.1,1382.9C403.6,1382.1 394.1,1381.4 386.7,1379.9C379.2,1378.4 373.8,1376.2 368.4,1373.8C362.9,1371.4 358.6,1369.1 354.2,1365.7C349.8,1362.3 346.0,1358.2 342.0,1353.5C337.9,1348.8 333.6,1342.4 329.9,1337.3C326.1,1332.2 323.0,1328.2 319.7,1323.1C316.3,1318.0 312.9,1312.5 309.6,1306.8C306.2,1301.0 302.7,1294.7 299.4,1288.6C296.0,1282.5 292.6,1276.4 289.2,1270.3C285.9,1264.2 282.4,1258.2 279.1,1252.1C275.7,1246.0 272.2,1239.9 269.0,1233.8C265.8,1227.7 262.6,1221.6 259.9,1215.5C257.2,1209.4 254.8,1203.4 252.8,1197.3C250.7,1191.2 249.1,1184.4 247.7,1179.0C246.2,1173.6 244.5,1169.4 244.2,1164.8C243.8,1160.2 244.5,1156.5 245.6,1151.6C246.6,1146.7 248.6,1140.8 250.7,1135.4C252.7,1130.0 255.4,1124.2 257.8,1119.1C260.1,1114.0 262.3,1110.0 264.9,1104.9C267.4,1099.8 270.2,1094.1 273.0,1088.7C275.7,1083.3 278.4,1077.2 281.2,1072.5C283.9,1067.8 286.2,1065.0 289.2,1060.3C292.3,1055.6 296.0,1049.5 299.4,1044.1C302.7,1038.7 306.2,1033.5 309.6,1027.8C312.9,1022.0 315.9,1015.7 319.7,1009.6C323.4,1003.5 327.8,997.0 331.9,991.3C335.9,985.5 340.0,980.0 344.1,975.1C348.1,970.2 352.4,965.1 356.2,961.9C359.9,958.7 362.6,957.5 366.4,955.8C370.1,954.1 374.2,952.9 378.6,951.7C382.9,950.5 387.0,949.5 392.8,948.7C398.5,947.9 404.6,947.7 413.1,947.1C421.5,946.5 432.6,945.5 443.5,945.0C454.3,944.5 467.1,944.1 478.4,944.2Z" fill="none" stroke="#fff" stroke-opacity="0.12" stroke-width="14" filter="url(#cb5)"/>
<path d="M478.4,944.2C489.6,944.3 500.3,945.2 510.8,945.7C521.2,946.2 532.1,946.4 541.2,947.1C550.4,947.8 558.8,948.6 565.6,949.7C572.3,950.8 576.4,951.9 581.9,953.8C587.3,955.7 593.3,958.0 598.1,960.9C602.8,963.8 606.2,967.0 610.2,971.0C614.3,975.0 618.6,980.5 622.4,985.2C626.1,989.9 629.2,994.3 632.5,999.4C635.9,1004.5 639.3,1009.9 642.7,1015.7C646.0,1021.4 649.5,1027.8 652.9,1033.9C656.2,1040.0 659.6,1046.1 663.0,1052.2C666.3,1058.3 670.1,1064.8 673.2,1070.5C676.2,1076.2 678.5,1081.0 681.2,1086.7C684.0,1092.4 686.6,1098.8 689.4,1104.9C692.1,1111.0 695.1,1117.5 697.5,1123.2C699.8,1129.0 701.8,1134.3 703.5,1139.4C705.2,1144.5 706.8,1149.5 707.7,1153.7C708.5,1157.9 708.8,1160.2 708.7,1164.8C708.5,1169.3 707.7,1175.2 706.7,1181.0C705.6,1186.8 704.4,1193.2 702.5,1199.3C700.7,1205.4 698.2,1211.2 695.5,1217.6C692.8,1224.0 689.6,1231.5 686.4,1237.9C683.1,1244.3 679.7,1250.0 676.2,1256.1C672.6,1262.2 668.8,1268.6 665.0,1274.4C661.3,1280.1 657.6,1285.2 653.9,1290.6C650.1,1296.0 646.6,1301.0 642.8,1306.8C638.9,1312.5 634.6,1319.3 630.5,1325.1C626.5,1330.8 622.8,1335.5 618.4,1341.3C614.0,1347.0 608.9,1354.2 604.1,1359.6C599.4,1365.0 594.7,1370.2 590.0,1373.8C585.2,1377.3 581.2,1379.4 575.8,1380.9C570.3,1382.4 566.6,1382.3 557.5,1382.9C548.3,1383.5 534.1,1384.0 521.0,1384.4C507.8,1384.8 491.3,1385.0 478.4,1385.0C465.4,1385.0 454.3,1384.8 443.5,1384.4C432.6,1384.0 422.5,1383.6 413.1,1382.9C403.6,1382.1 394.1,1381.4 386.7,1379.9C379.2,1378.4 373.8,1376.2 368.4,1373.8C362.9,1371.4 358.6,1369.1 354.2,1365.7C349.8,1362.3 346.0,1358.2 342.0,1353.5C337.9,1348.8 333.6,1342.4 329.9,1337.3C326.1,1332.2 323.0,1328.2 319.7,1323.1C316.3,1318.0 312.9,1312.5 309.6,1306.8C306.2,1301.0 302.7,1294.7 299.4,1288.6C296.0,1282.5 292.6,1276.4 289.2,1270.3C285.9,1264.2 282.4,1258.2 279.1,1252.1C275.7,1246.0 272.2,1239.9 269.0,1233.8C265.8,1227.7 262.6,1221.6 259.9,1215.5C257.2,1209.4 254.8,1203.4 252.8,1197.3C250.7,1191.2 249.1,1184.4 247.7,1179.0C246.2,1173.6 244.5,1169.4 244.2,1164.8C243.8,1160.2 244.5,1156.5 245.6,1151.6C246.6,1146.7 248.6,1140.8 250.7,1135.4C252.7,1130.0 255.4,1124.2 257.8,1119.1C260.1,1114.0 262.3,1110.0 264.9,1104.9C267.4,1099.8 270.2,1094.1 273.0,1088.7C275.7,1083.3 278.4,1077.2 281.2,1072.5C283.9,1067.8 286.2,1065.0 289.2,1060.3C292.3,1055.6 296.0,1049.5 299.4,1044.1C302.7,1038.7 306.2,1033.5 309.6,1027.8C312.9,1022.0 315.9,1015.7 319.7,1009.6C323.4,1003.5 327.8,997.0 331.9,991.3C335.9,985.5 340.0,980.0 344.1,975.1C348.1,970.2 352.4,965.1 356.2,961.9C359.9,958.7 362.6,957.5 366.4,955.8C370.1,954.1 374.2,952.9 378.6,951.7C382.9,950.5 387.0,949.5 392.8,948.7C398.5,947.9 404.6,947.7 413.1,947.1C421.5,946.5 432.6,945.5 443.5,945.0C454.3,944.5 467.1,944.1 478.4,944.2Z" fill="none" stroke="#fff" stroke-opacity="0.23" stroke-width="6" filter="url(#cb2)"/>
<path d="M354.2,1365.7C352.1,1363.7 346.0,1358.2 342.0,1353.5C337.9,1348.8 333.6,1342.4 329.9,1337.3C326.1,1332.2 323.0,1328.2 319.7,1323.1C316.3,1318.0 312.9,1312.5 309.6,1306.8C306.2,1301.0 302.7,1294.7 299.4,1288.6C296.0,1282.5 292.6,1276.4 289.2,1270.3C285.9,1264.2 282.4,1258.2 279.1,1252.1C275.7,1246.0 272.2,1239.9 269.0,1233.8C265.8,1227.7 261.4,1218.5 259.9,1215.5" fill="none" stroke="#fff" stroke-opacity="0.38" stroke-width="8.5" filter="url(#cb2)"/>
<path d="M610.2,971.0C612.3,973.4 618.6,980.5 622.4,985.2C626.1,989.9 629.2,994.3 632.5,999.4C635.9,1004.5 639.3,1009.9 642.7,1015.7C646.0,1021.4 649.5,1027.8 652.9,1033.9C656.2,1040.0 659.6,1046.1 663.0,1052.2C666.3,1058.3 670.1,1064.8 673.2,1070.5C676.2,1076.2 678.5,1081.0 681.2,1086.7C684.0,1092.4 686.6,1098.8 689.4,1104.9C692.1,1111.0 695.1,1117.5 697.5,1123.2C699.8,1129.0 702.5,1136.7 703.5,1139.4" fill="none" stroke="#fff" stroke-opacity="0.34" stroke-width="8.5" filter="url(#cb2)"/>
<path d="M575.8,1380.9C572.7,1381.2 566.6,1382.3 557.5,1382.9C548.3,1383.5 534.1,1384.0 521.0,1384.4C507.8,1384.8 491.3,1385.0 478.4,1385.0C465.4,1385.0 454.3,1384.8 443.5,1384.4C432.6,1384.0 422.5,1383.6 413.1,1382.9C403.6,1382.1 391.1,1380.4 386.7,1379.9" fill="none" stroke="#fff" stroke-opacity="0.10" stroke-width="6" filter="url(#cb2)"/>
<path d="M378.6,951.7C380.9,951.2 387.0,949.5 392.8,948.7C398.5,947.9 404.6,947.7 413.1,947.1C421.5,946.5 432.6,945.5 443.5,945.0C454.3,944.5 467.1,944.1 478.4,944.2C489.6,944.3 500.3,945.2 510.8,945.7C521.2,946.2 532.1,946.4 541.2,947.1C550.4,947.8 558.8,948.6 565.6,949.7C572.3,950.8 579.1,953.1 581.9,953.8" fill="none" stroke="#fff" stroke-opacity="0.10" stroke-width="6" filter="url(#cb2)"/>
</g>
</g></g>
<line x1="159.60" y1="1165.30" x2="793.60" y2="1165.30" stroke="#fff" stroke-width="3.6" stroke-dasharray="4.0 3.7"/>
<line x1="478.40" y1="847.40" x2="478.40" y2="1481.40" stroke="#fff" stroke-width="3.6" stroke-dasharray="4.0 3.7"/>
<line x1="478.40" y1="1165.30" x2="585.52" y2="974.32" stroke="#fff" stroke-width="4.1" stroke-dasharray="7.5 4.0"/>
<polygon points="593.1,960.8 592.6,980.6 576.5,971.5" fill="#fff"/>
<line x1="478.40" y1="1165.30" x2="652.65" y2="1065.41" stroke="#fff" stroke-width="4.1" />
<polygon points="666.1,1057.7 655.5,1074.4 646.3,1058.4" fill="#fff"/>
<text transform="translate(592.30,949.80) scale(0.945,1.075)" text-anchor="start" font-size="24.5" fill="#fff" font-weight="bold">Q1</text>
<text transform="translate(674.00,1055.60) scale(0.945,1.075)" text-anchor="start" font-size="24.5" fill="#fff" font-weight="bold">Q2</text>
<text transform="translate(490.3,1218.4) scale(1.1,1)" font-size="47" fill="#fff" font-family="Liberation Serif, serif">Γ</text>
<line x1="675.60" y1="1399.40" x2="675.60" y2="1343.60" stroke="#f5ee00" stroke-width="3.2" />
<polygon points="675.6,1332.6 682.1,1345.6 669.1,1345.6" fill="#f5ee00"/>
<line x1="675.60" y1="1399.40" x2="724.93" y2="1427.37" stroke="#f5ee00" stroke-width="3.2" />
<polygon points="734.5,1432.8 720.0,1432.0 726.4,1420.7" fill="#f5ee00"/>
<line x1="675.60" y1="1399.40" x2="704.87" y2="1351.39" stroke="#fff" stroke-width="2.8" />
<polygon points="710.6,1342.0 709.0,1356.2 698.7,1350.0" fill="#fff"/>
<line x1="675.60" y1="1399.40" x2="731.40" y2="1399.40" stroke="#fff" stroke-width="2.8" />
<polygon points="742.4,1399.4 729.4,1405.4 729.4,1393.4" fill="#fff"/>
<text x="661.5" y="1321" font-size="24.5" font-weight="bold" fill="#f5ee00">a<tspan font-size="16" dx="1.5" dy="5">1</tspan><tspan font-size="19" dx="-9" dy="-13.5">*</tspan></text>
<text x="702" y="1336" font-size="24.5" font-weight="bold" fill="#fff">a<tspan font-size="16" dx="1.5" dy="5">2</tspan></text>
<text x="745" y="1406" font-size="24.5" font-weight="bold" fill="#fff">a<tspan font-size="16" dx="1.5" dy="5">1</tspan></text>
<text x="734" y="1453" font-size="24.5" font-weight="bold" fill="#f5ee00">a<tspan font-size="16" dx="1.5" dy="5">2</tspan><tspan font-size="19" dx="-9" dy="-13.5">*</tspan></text>
<path d="M145.1,844.4H799.6" fill="none" stroke="#000" stroke-width="1.8"/>
<path d="M157.6,844.4V1485.4H798.6" fill="none" stroke="#000" stroke-width="2.5"/>
<path d="M799.2,844.4V1486.6000000000001" fill="none" stroke="#000" stroke-width="1.2"/>
<line x1="157.60" y1="1485.55" x2="145.10" y2="1485.55" stroke="#000" stroke-width="2.5" />
<line x1="157.60" y1="1378.80" x2="145.10" y2="1378.80" stroke="#000" stroke-width="2.5" />
<line x1="157.60" y1="1272.05" x2="145.10" y2="1272.05" stroke="#000" stroke-width="2.5" />
<line x1="157.60" y1="1165.30" x2="145.10" y2="1165.30" stroke="#000" stroke-width="2.5" />
<line x1="157.60" y1="1058.55" x2="145.10" y2="1058.55" stroke="#000" stroke-width="2.5" />
<line x1="157.60" y1="951.80" x2="145.10" y2="951.80" stroke="#000" stroke-width="2.5" />
<line x1="157.60" y1="845.05" x2="145.10" y2="845.05" stroke="#000" stroke-width="2.5" />
<line x1="157.60" y1="1432.17" x2="150.90" y2="1432.17" stroke="#000" stroke-width="2.5" />
<line x1="157.60" y1="1325.42" x2="150.90" y2="1325.42" stroke="#000" stroke-width="2.5" />
<line x1="157.60" y1="1218.67" x2="150.90" y2="1218.67" stroke="#000" stroke-width="2.5" />
<line x1="157.60" y1="1111.92" x2="150.90" y2="1111.92" stroke="#000" stroke-width="2.5" />
<line x1="157.60" y1="1005.17" x2="150.90" y2="1005.17" stroke="#000" stroke-width="2.5" />
<line x1="157.60" y1="898.42" x2="150.90" y2="898.42" stroke="#000" stroke-width="2.5" />
<line x1="798.60" y1="1485.55" x2="787.60" y2="1485.55" stroke="#000" stroke-width="1.6" />
<line x1="798.60" y1="1378.80" x2="787.60" y2="1378.80" stroke="#000" stroke-width="1.6" />
<line x1="798.60" y1="1272.05" x2="787.60" y2="1272.05" stroke="#000" stroke-width="1.6" />
<line x1="798.60" y1="1058.55" x2="787.60" y2="1058.55" stroke="#000" stroke-width="1.6" />
<line x1="798.60" y1="951.80" x2="787.60" y2="951.80" stroke="#000" stroke-width="1.6" />
<line x1="798.60" y1="845.05" x2="787.60" y2="845.05" stroke="#000" stroke-width="1.6" />
<line x1="798.60" y1="1432.17" x2="793.10" y2="1432.17" stroke="#000" stroke-width="1.6" />
<line x1="798.60" y1="1325.42" x2="793.10" y2="1325.42" stroke="#000" stroke-width="1.6" />
<line x1="798.60" y1="1218.67" x2="793.10" y2="1218.67" stroke="#000" stroke-width="1.6" />
<line x1="798.60" y1="1111.92" x2="793.10" y2="1111.92" stroke="#000" stroke-width="1.6" />
<line x1="798.60" y1="1005.17" x2="793.10" y2="1005.17" stroke="#000" stroke-width="1.6" />
<line x1="798.60" y1="898.42" x2="793.10" y2="898.42" stroke="#000" stroke-width="1.6" />
<line x1="158.15" y1="1485.40" x2="158.15" y2="1497.90" stroke="#000" stroke-width="2.5" />
<line x1="264.90" y1="1485.40" x2="264.90" y2="1497.90" stroke="#000" stroke-width="2.5" />
<line x1="371.65" y1="1485.40" x2="371.65" y2="1497.90" stroke="#000" stroke-width="2.5" />
<line x1="585.15" y1="1485.40" x2="585.15" y2="1497.90" stroke="#000" stroke-width="2.5" />
<line x1="691.90" y1="1485.40" x2="691.90" y2="1497.90" stroke="#000" stroke-width="2.5" />
<line x1="798.65" y1="1485.40" x2="798.65" y2="1497.90" stroke="#000" stroke-width="2.5" />
<line x1="211.52" y1="1485.40" x2="211.52" y2="1492.10" stroke="#000" stroke-width="2.5" />
<line x1="318.27" y1="1485.40" x2="318.27" y2="1492.10" stroke="#000" stroke-width="2.5" />
<line x1="425.02" y1="1485.40" x2="425.02" y2="1492.10" stroke="#000" stroke-width="2.5" />
<line x1="531.77" y1="1485.40" x2="531.77" y2="1492.10" stroke="#000" stroke-width="2.5" />
<line x1="638.52" y1="1485.40" x2="638.52" y2="1492.10" stroke="#000" stroke-width="2.5" />
<line x1="745.27" y1="1485.40" x2="745.27" y2="1492.10" stroke="#000" stroke-width="2.5" />
<text x="133.50" y="1494.45" text-anchor="end" font-size="25.0" fill="#000" font-weight="normal" font-style="normal" >−1.5</text>
<text x="158.95" y="1527.50" text-anchor="middle" font-size="25.0" fill="#000" font-weight="normal" font-style="normal" >−1.5</text>
<text x="133.50" y="1387.70" text-anchor="end" font-size="25.0" fill="#000" font-weight="normal" font-style="normal" >−1.0</text>
<text x="265.70" y="1527.50" text-anchor="middle" font-size="25.0" fill="#000" font-weight="normal" font-style="normal" >−1.0</text>
<text x="133.50" y="1280.95" text-anchor="end" font-size="25.0" fill="#000" font-weight="normal" font-style="normal" >−0.5</text>
<text x="372.45" y="1527.50" text-anchor="middle" font-size="25.0" fill="#000" font-weight="normal" font-style="normal" >−0.5</text>
<text x="133.50" y="1174.20" text-anchor="end" font-size="25.0" fill="#000" font-weight="normal" font-style="normal" >0.0</text>
<text x="479.20" y="1527.50" text-anchor="middle" font-size="25.0" fill="#000" font-weight="normal" font-style="normal" >0.0</text>
<text x="133.50" y="1067.45" text-anchor="end" font-size="25.0" fill="#000" font-weight="normal" font-style="normal" >0.5</text>
<text x="585.95" y="1527.50" text-anchor="middle" font-size="25.0" fill="#000" font-weight="normal" font-style="normal" >0.5</text>
<text x="133.50" y="960.70" text-anchor="end" font-size="25.0" fill="#000" font-weight="normal" font-style="normal" >1.0</text>
<text x="692.70" y="1527.50" text-anchor="middle" font-size="25.0" fill="#000" font-weight="normal" font-style="normal" >1.0</text>
<text x="133.50" y="853.95" text-anchor="end" font-size="25.0" fill="#000" font-weight="normal" font-style="normal" >1.5</text>
<text x="799.45" y="1527.50" text-anchor="middle" font-size="25.0" fill="#000" font-weight="normal" font-style="normal" >1.5</text>
<text x="479.8" y="1568.2" text-anchor="middle" font-size="25.0"><tspan font-style="italic">q</tspan><tspan font-size="16.5" dy="7.5">x</tspan><tspan dy="-7.5"> (1/nm)</tspan></text>
<text transform="translate(54.1,1164.2) rotate(-90)" text-anchor="middle" font-size="25.0"><tspan font-style="italic">q</tspan><tspan font-size="16.5" dy="7.5">y</tspan><tspan dy="-7.5"> (1/nm)</tspan></text>
<rect x="813.7" y="843.6" width="49.89999999999998" height="641.6999999999999" fill="url(#cbar)" stroke="#000" stroke-width="1.3"/>
<text transform="translate(836.45,885.30) scale(1.03,1.075)" text-anchor="middle" font-size="24.5" fill="#000" font-weight="bold">HI</text>
<text transform="translate(836.65,1462.90) scale(1.03,1.075)" text-anchor="middle" font-size="24.5" fill="#fff" font-weight="bold">LO</text>
</g>
<g id="panel-d">
<text x="910.30" y="844.60" text-anchor="start" font-size="41.3" fill="#000" font-weight="bold" font-style="normal" >d</text>
<defs>
<filter id="hotD" color-interpolation-filters="sRGB" filterUnits="userSpaceOnUse" x="1034.0" y="842.2" width="645.5" height="645.3999999999999">
<feComponentTransfer><feFuncR type="table" tableValues="0.030 0.108 0.186 0.265 0.343 0.421 0.499 0.578 0.656 0.734 0.812 0.890 0.969 1.000 1.000 1.000 1.000 1.000 1.000 1.000 1.000 1.000 1.000 1.000 1.000 1.000 1.000 1.000 1.000 1.000 1.000 1.000 1.000 1.000 1.000 1.000 1.000 1.000 1.000 1.000 1.000"/><feFuncG type="table" tableValues="0.000 0.000 0.000 0.000 0.000 0.000 0.000 0.000 0.000 0.000 0.000 0.000 0.000 0.038 0.103 0.167 0.231 0.295 0.359 0.423 0.487 0.551 0.615 0.679 0.744 0.808 0.872 0.936 1.000 1.000 1.000 1.000 1.000 1.000 1.000 1.000 1.000 1.000 1.000 1.000 1.000"/><feFuncB type="table" tableValues="0.000 0.000 0.000 0.000 0.000 0.000 0.000 0.000 0.000 0.000 0.000 0.000 0.000 0.000 0.000 0.000 0.000 0.000 0.000 0.000 0.000 0.000 0.000 0.000 0.000 0.000 0.000 0.000 0.000 0.081 0.162 0.243 0.323 0.404 0.485 0.566 0.647 0.728 0.808 0.889 0.970"/></feComponentTransfer></filter>
<filter id="db2" color-interpolation-filters="sRGB" filterUnits="userSpaceOnUse" x="956.0" y="764.2" width="801.5" height="801.3999999999999"><feGaussianBlur stdDeviation="2"/></filter>
<filter id="db3" color-interpolation-filters="sRGB" filterUnits="userSpaceOnUse" x="956.0" y="764.2" width="801.5" height="801.3999999999999"><feGaussianBlur stdDeviation="3"/></filter>
<filter id="db4" color-interpolation-filters="sRGB" filterUnits="userSpaceOnUse" x="956.0" y="764.2" width="801.5" height="801.3999999999999"><feGaussianBlur stdDeviation="4"/></filter>
<filter id="db5" color-interpolation-filters="sRGB" filterUnits="userSpaceOnUse" x="956.0" y="764.2" width="801.5" height="801.3999999999999"><feGaussianBlur stdDeviation="5"/></filter>
<filter id="db6" color-interpolation-filters="sRGB" filterUnits="userSpaceOnUse" x="956.0" y="764.2" width="801.5" height="801.3999999999999"><feGaussianBlur stdDeviation="6"/></filter>
<filter id="db8" color-interpolation-filters="sRGB" filterUnits="userSpaceOnUse" x="956.0" y="764.2" width="801.5" height="801.3999999999999"><feGaussianBlur stdDeviation="8"/></filter>
<filter id="db10" color-interpolation-filters="sRGB" filterUnits="userSpaceOnUse" x="956.0" y="764.2" width="801.5" height="801.3999999999999"><feGaussianBlur stdDeviation="10"/></filter>
<filter id="db12" color-interpolation-filters="sRGB" filterUnits="userSpaceOnUse" x="956.0" y="764.2" width="801.5" height="801.3999999999999"><feGaussianBlur stdDeviation="12"/></filter>
<filter id="db16" color-interpolation-filters="sRGB" filterUnits="userSpaceOnUse" x="956.0" y="764.2" width="801.5" height="801.3999999999999"><feGaussianBlur stdDeviation="16"/></filter>
<filter id="db20" color-interpolation-filters="sRGB" filterUnits="userSpaceOnUse" x="956.0" y="764.2" width="801.5" height="801.3999999999999"><feGaussianBlur stdDeviation="20"/></filter>
<filter id="db30" color-interpolation-filters="sRGB" filterUnits="userSpaceOnUse" x="956.0" y="764.2" width="801.5" height="801.3999999999999"><feGaussianBlur stdDeviation="30"/></filter>
<filter id="db40" color-interpolation-filters="sRGB" filterUnits="userSpaceOnUse" x="956.0" y="764.2" width="801.5" height="801.3999999999999"><feGaussianBlur stdDeviation="40"/></filter>
<clipPath id="clipD"><rect x="1036.0" y="844.2" width="641.5" height="641.3999999999999"/></clipPath>
</defs>
<g clip-path="url(#clipD)"><g filter="url(#hotD)">
<rect x="1031.0" y="839.2" width="651.5" height="651.3999999999999" fill="#000"/>
<rect x="1031.0" y="839.2" width="651.5" height="651.3999999999999" fill="#fff" fill-opacity="0.02"/>
<ellipse cx="1021.8" cy="1015.3" rx="50" ry="170" fill="#fff" fill-opacity="0.085" transform="rotate(0 1021.8 1015.3)" filter="url(#db30)"/>
<ellipse cx="1120.8" cy="867.3" rx="10" ry="20" fill="#fff" fill-opacity="0.3" transform="rotate(-10 1120.8 867.3)" filter="url(#db8)"/>
<ellipse cx="1021.8" cy="1315.3" rx="50" ry="170" fill="#fff" fill-opacity="0.085" transform="rotate(0 1021.8 1315.3)" filter="url(#db30)"/>
<ellipse cx="1120.8" cy="1463.3" rx="10" ry="20" fill="#fff" fill-opacity="0.3" transform="rotate(10 1120.8 1463.3)" filter="url(#db8)"/>
<ellipse cx="1691.8" cy="1015.3" rx="50" ry="170" fill="#fff" fill-opacity="0.085" transform="rotate(0 1691.8 1015.3)" filter="url(#db30)"/>
<ellipse cx="1592.8" cy="867.3" rx="10" ry="20" fill="#fff" fill-opacity="0.3" transform="rotate(10 1592.8 867.3)" filter="url(#db8)"/>
<ellipse cx="1691.8" cy="1315.3" rx="50" ry="170" fill="#fff" fill-opacity="0.085" transform="rotate(0 1691.8 1315.3)" filter="url(#db30)"/>
<ellipse cx="1592.8" cy="1463.3" rx="10" ry="20" fill="#fff" fill-opacity="0.3" transform="rotate(-10 1592.8 1463.3)" filter="url(#db8)"/>
<path d="M1356.8,846.3C1361.8,846.3 1366.8,846.7 1371.8,847.8C1376.8,848.9 1382.1,850.7 1386.8,852.8C1391.5,854.9 1395.6,857.5 1399.8,860.3C1404.0,863.0 1408.0,866.3 1411.8,869.3C1415.6,872.3 1419.0,875.5 1422.8,878.3C1426.6,881.1 1430.6,883.5 1434.8,886.3C1439.0,889.1 1443.0,892.1 1447.8,895.3C1452.6,898.5 1456.8,901.3 1463.6,905.6C1470.3,909.9 1480.7,916.2 1488.3,920.9C1495.9,925.5 1502.2,929.5 1509.2,933.5C1516.2,937.5 1523.1,941.2 1530.1,944.6C1537.1,948.0 1544.1,951.1 1551.1,953.7C1558.1,956.3 1565.0,957.5 1572.0,960.0C1579.0,962.5 1587.1,965.9 1592.9,968.4C1598.7,970.9 1602.9,972.8 1606.9,975.3C1610.8,977.8 1613.6,980.4 1616.6,983.7C1619.6,987.0 1622.4,990.9 1625.0,994.9C1627.6,998.9 1629.7,1003.0 1632.0,1007.4C1634.3,1011.8 1636.9,1017.0 1639.0,1021.4C1641.1,1025.8 1642.9,1029.7 1644.5,1033.9C1646.1,1038.1 1647.9,1042.8 1648.7,1046.5C1649.5,1050.2 1649.6,1052.7 1649.4,1056.2C1649.2,1059.7 1648.2,1063.4 1647.3,1067.4C1646.4,1071.4 1645.1,1075.8 1643.8,1080.0C1642.5,1084.2 1641.0,1088.1 1639.7,1092.5C1638.4,1096.9 1637.0,1101.9 1636.2,1106.5C1635.4,1111.1 1635.1,1113.9 1634.8,1120.0C1634.5,1126.1 1634.5,1135.5 1634.5,1143.0C1634.5,1150.5 1634.5,1157.9 1634.5,1165.3C1634.5,1172.7 1634.5,1180.0 1634.5,1187.6C1634.5,1195.1 1634.5,1204.5 1634.8,1210.6C1635.1,1216.7 1635.4,1219.5 1636.2,1224.1C1637.0,1228.7 1638.4,1233.7 1639.7,1238.1C1641.0,1242.5 1642.5,1246.4 1643.8,1250.6C1645.1,1254.8 1646.4,1259.2 1647.3,1263.2C1648.2,1267.2 1649.2,1270.9 1649.4,1274.4C1649.6,1277.9 1649.5,1280.4 1648.7,1284.1C1647.9,1287.8 1646.1,1292.5 1644.5,1296.7C1642.9,1300.9 1641.1,1304.8 1639.0,1309.2C1636.9,1313.6 1634.3,1318.8 1632.0,1323.2C1629.7,1327.6 1627.6,1331.8 1625.0,1335.7C1622.4,1339.7 1619.6,1343.6 1616.6,1346.9C1613.6,1350.2 1610.8,1352.8 1606.9,1355.3C1602.9,1357.8 1598.7,1359.7 1592.9,1362.2C1587.1,1364.8 1579.0,1368.1 1572.0,1370.6C1565.0,1373.0 1558.1,1374.3 1551.1,1376.9C1544.1,1379.5 1537.1,1382.6 1530.1,1386.0C1523.1,1389.4 1516.2,1393.1 1509.2,1397.1C1502.2,1401.0 1495.9,1405.0 1488.3,1409.7C1480.7,1414.4 1470.3,1420.7 1463.6,1425.0C1456.8,1429.3 1452.6,1432.1 1447.8,1435.3C1443.0,1438.5 1439.0,1441.5 1434.8,1444.3C1430.6,1447.1 1426.6,1449.5 1422.8,1452.3C1419.0,1455.1 1415.6,1458.3 1411.8,1461.3C1408.0,1464.3 1404.0,1467.5 1399.8,1470.3C1395.6,1473.0 1391.5,1475.7 1386.8,1477.8C1382.1,1479.9 1376.8,1481.7 1371.8,1482.8C1366.8,1483.9 1361.8,1484.3 1356.8,1484.3C1351.8,1484.3 1346.8,1483.9 1341.8,1482.8C1336.8,1481.7 1331.5,1479.9 1326.8,1477.8C1322.1,1475.7 1318.0,1473.0 1313.8,1470.3C1309.6,1467.5 1305.6,1464.3 1301.8,1461.3C1298.0,1458.3 1294.6,1455.1 1290.8,1452.3C1287.0,1449.5 1283.0,1447.1 1278.8,1444.3C1274.6,1441.5 1270.6,1438.5 1265.8,1435.3C1261.0,1432.1 1256.8,1429.3 1250.0,1425.0C1243.2,1420.7 1232.9,1414.4 1225.3,1409.7C1217.7,1405.0 1211.4,1401.0 1204.4,1397.1C1197.4,1393.1 1190.5,1389.4 1183.5,1386.0C1176.5,1382.6 1169.5,1379.5 1162.5,1376.9C1155.5,1374.3 1148.6,1373.0 1141.6,1370.6C1134.6,1368.1 1126.5,1364.8 1120.7,1362.2C1114.9,1359.7 1110.7,1357.8 1106.7,1355.3C1102.8,1352.8 1100.0,1350.2 1097.0,1346.9C1094.0,1343.6 1091.2,1339.7 1088.6,1335.7C1086.0,1331.8 1083.9,1327.6 1081.6,1323.2C1079.3,1318.8 1076.7,1313.6 1074.6,1309.2C1072.5,1304.8 1070.7,1300.9 1069.1,1296.7C1067.5,1292.5 1065.7,1287.8 1064.9,1284.1C1064.1,1280.4 1064.0,1277.9 1064.2,1274.4C1064.4,1270.9 1065.4,1267.2 1066.3,1263.2C1067.2,1259.2 1068.5,1254.8 1069.8,1250.6C1071.1,1246.4 1072.6,1242.5 1073.9,1238.1C1075.2,1233.7 1076.6,1228.7 1077.4,1224.1C1078.2,1219.5 1078.5,1216.7 1078.8,1210.6C1079.1,1204.5 1079.0,1195.1 1079.1,1187.6C1079.1,1180.0 1079.1,1172.7 1079.1,1165.3C1079.1,1157.9 1079.1,1150.5 1079.1,1143.0C1079.0,1135.5 1079.1,1126.1 1078.8,1120.0C1078.5,1113.9 1078.2,1111.1 1077.4,1106.5C1076.6,1101.9 1075.2,1096.9 1073.9,1092.5C1072.6,1088.1 1071.1,1084.2 1069.8,1080.0C1068.5,1075.8 1067.2,1071.4 1066.3,1067.4C1065.4,1063.4 1064.4,1059.7 1064.2,1056.2C1064.0,1052.7 1064.1,1050.2 1064.9,1046.5C1065.7,1042.8 1067.5,1038.1 1069.1,1033.9C1070.7,1029.7 1072.5,1025.8 1074.6,1021.4C1076.7,1017.0 1079.3,1011.8 1081.6,1007.4C1083.9,1003.0 1086.0,998.9 1088.6,994.9C1091.2,990.9 1094.0,987.0 1097.0,983.7C1100.0,980.4 1102.8,977.8 1106.7,975.3C1110.7,972.8 1114.9,970.9 1120.7,968.4C1126.5,965.9 1134.6,962.5 1141.6,960.0C1148.6,957.5 1155.5,956.3 1162.5,953.7C1169.5,951.1 1176.5,948.0 1183.5,944.6C1190.5,941.2 1197.4,937.5 1204.4,933.5C1211.4,929.5 1217.7,925.5 1225.3,920.9C1232.9,916.2 1243.2,909.9 1250.0,905.6C1256.8,901.3 1261.0,898.5 1265.8,895.3C1270.6,892.1 1274.6,889.1 1278.8,886.3C1283.0,883.5 1287.0,881.1 1290.8,878.3C1294.6,875.5 1298.0,872.3 1301.8,869.3C1305.6,866.3 1309.6,863.0 1313.8,860.3C1318.0,857.5 1322.1,854.9 1326.8,852.8C1331.5,850.7 1336.8,848.9 1341.8,847.8C1346.8,846.7 1351.8,846.3 1356.8,846.3Z" fill="#fff" fill-opacity="0.11" filter="url(#db8)"/>
<circle cx="1356.8" cy="1165.3" r="247" fill="none" stroke="#fff" stroke-opacity="0.15" stroke-width="46" filter="url(#db12)"/>
<circle cx="1356.8" cy="1165.3" r="238" fill="none" stroke="#fff" stroke-opacity="0.20" stroke-width="22" filter="url(#db6)"/>
<path d="M1605.0,1209.1A252,252 0 0 0 1605.0,1121.5" fill="none" stroke="#fff" stroke-opacity="0.3" stroke-width="40" filter="url(#db12)"/>
<path d="M1108.6,1121.5A252,252 0 0 0 1108.6,1209.1" fill="none" stroke="#fff" stroke-opacity="0.3" stroke-width="40" filter="url(#db12)"/>
<path d="M1561.3,1011.2A256,256 0 0 0 1423.1,918.0" fill="none" stroke="#fff" stroke-opacity="0.31" stroke-width="44" filter="url(#db12)"/>
<path d="M1290.5,918.0A256,256 0 0 0 1152.3,1011.2" fill="none" stroke="#fff" stroke-opacity="0.31" stroke-width="44" filter="url(#db12)"/>
<path d="M1152.3,1319.4A256,256 0 0 0 1290.5,1412.6" fill="none" stroke="#fff" stroke-opacity="0.31" stroke-width="44" filter="url(#db12)"/>
<path d="M1423.1,1412.6A256,256 0 0 0 1561.3,1319.4" fill="none" stroke="#fff" stroke-opacity="0.31" stroke-width="44" filter="url(#db12)"/>
<circle cx="1356.8" cy="1165.3" r="200" fill="#000" fill-opacity="0.985" filter="url(#db12)"/>
<circle cx="1356.8" cy="1165.3" r="165" fill="#000" filter="url(#db20)"/>
<circle cx="1356.8" cy="1165.3" r="215" fill="#fff" fill-opacity="0.006"/>
<path d="M1356.8,846.3C1361.8,846.3 1366.8,846.7 1371.8,847.8C1376.8,848.9 1382.1,850.7 1386.8,852.8C1391.5,854.9 1395.6,857.5 1399.8,860.3C1404.0,863.0 1408.0,866.3 1411.8,869.3C1415.6,872.3 1419.0,875.5 1422.8,878.3C1426.6,881.1 1430.6,883.5 1434.8,886.3C1439.0,889.1 1443.0,892.1 1447.8,895.3C1452.6,898.5 1456.8,901.3 1463.6,905.6C1470.3,909.9 1480.7,916.2 1488.3,920.9C1495.9,925.5 1502.2,929.5 1509.2,933.5C1516.2,937.5 1523.1,941.2 1530.1,944.6C1537.1,948.0 1544.1,951.1 1551.1,953.7C1558.1,956.3 1565.0,957.5 1572.0,960.0C1579.0,962.5 1587.1,965.9 1592.9,968.4C1598.7,970.9 1602.9,972.8 1606.9,975.3C1610.8,977.8 1613.6,980.4 1616.6,983.7C1619.6,987.0 1622.4,990.9 1625.0,994.9C1627.6,998.9 1629.7,1003.0 1632.0,1007.4C1634.3,1011.8 1636.9,1017.0 1639.0,1021.4C1641.1,1025.8 1642.9,1029.7 1644.5,1033.9C1646.1,1038.1 1647.9,1042.8 1648.7,1046.5C1649.5,1050.2 1649.6,1052.7 1649.4,1056.2C1649.2,1059.7 1648.2,1063.4 1647.3,1067.4C1646.4,1071.4 1645.1,1075.8 1643.8,1080.0C1642.5,1084.2 1641.0,1088.1 1639.7,1092.5C1638.4,1096.9 1637.0,1101.9 1636.2,1106.5C1635.4,1111.1 1635.1,1113.9 1634.8,1120.0C1634.5,1126.1 1634.5,1135.5 1634.5,1143.0C1634.5,1150.5 1634.5,1157.9 1634.5,1165.3C1634.5,1172.7 1634.5,1180.0 1634.5,1187.6C1634.5,1195.1 1634.5,1204.5 1634.8,1210.6C1635.1,1216.7 1635.4,1219.5 1636.2,1224.1C1637.0,1228.7 1638.4,1233.7 1639.7,1238.1C1641.0,1242.5 1642.5,1246.4 1643.8,1250.6C1645.1,1254.8 1646.4,1259.2 1647.3,1263.2C1648.2,1267.2 1649.2,1270.9 1649.4,1274.4C1649.6,1277.9 1649.5,1280.4 1648.7,1284.1C1647.9,1287.8 1646.1,1292.5 1644.5,1296.7C1642.9,1300.9 1641.1,1304.8 1639.0,1309.2C1636.9,1313.6 1634.3,1318.8 1632.0,1323.2C1629.7,1327.6 1627.6,1331.8 1625.0,1335.7C1622.4,1339.7 1619.6,1343.6 1616.6,1346.9C1613.6,1350.2 1610.8,1352.8 1606.9,1355.3C1602.9,1357.8 1598.7,1359.7 1592.9,1362.2C1587.1,1364.8 1579.0,1368.1 1572.0,1370.6C1565.0,1373.0 1558.1,1374.3 1551.1,1376.9C1544.1,1379.5 1537.1,1382.6 1530.1,1386.0C1523.1,1389.4 1516.2,1393.1 1509.2,1397.1C1502.2,1401.0 1495.9,1405.0 1488.3,1409.7C1480.7,1414.4 1470.3,1420.7 1463.6,1425.0C1456.8,1429.3 1452.6,1432.1 1447.8,1435.3C1443.0,1438.5 1439.0,1441.5 1434.8,1444.3C1430.6,1447.1 1426.6,1449.5 1422.8,1452.3C1419.0,1455.1 1415.6,1458.3 1411.8,1461.3C1408.0,1464.3 1404.0,1467.5 1399.8,1470.3C1395.6,1473.0 1391.5,1475.7 1386.8,1477.8C1382.1,1479.9 1376.8,1481.7 1371.8,1482.8C1366.8,1483.9 1361.8,1484.3 1356.8,1484.3C1351.8,1484.3 1346.8,1483.9 1341.8,1482.8C1336.8,1481.7 1331.5,1479.9 1326.8,1477.8C1322.1,1475.7 1318.0,1473.0 1313.8,1470.3C1309.6,1467.5 1305.6,1464.3 1301.8,1461.3C1298.0,1458.3 1294.6,1455.1 1290.8,1452.3C1287.0,1449.5 1283.0,1447.1 1278.8,1444.3C1274.6,1441.5 1270.6,1438.5 1265.8,1435.3C1261.0,1432.1 1256.8,1429.3 1250.0,1425.0C1243.2,1420.7 1232.9,1414.4 1225.3,1409.7C1217.7,1405.0 1211.4,1401.0 1204.4,1397.1C1197.4,1393.1 1190.5,1389.4 1183.5,1386.0C1176.5,1382.6 1169.5,1379.5 1162.5,1376.9C1155.5,1374.3 1148.6,1373.0 1141.6,1370.6C1134.6,1368.1 1126.5,1364.8 1120.7,1362.2C1114.9,1359.7 1110.7,1357.8 1106.7,1355.3C1102.8,1352.8 1100.0,1350.2 1097.0,1346.9C1094.0,1343.6 1091.2,1339.7 1088.6,1335.7C1086.0,1331.8 1083.9,1327.6 1081.6,1323.2C1079.3,1318.8 1076.7,1313.6 1074.6,1309.2C1072.5,1304.8 1070.7,1300.9 1069.1,1296.7C1067.5,1292.5 1065.7,1287.8 1064.9,1284.1C1064.1,1280.4 1064.0,1277.9 1064.2,1274.4C1064.4,1270.9 1065.4,1267.2 1066.3,1263.2C1067.2,1259.2 1068.5,1254.8 1069.8,1250.6C1071.1,1246.4 1072.6,1242.5 1073.9,1238.1C1075.2,1233.7 1076.6,1228.7 1077.4,1224.1C1078.2,1219.5 1078.5,1216.7 1078.8,1210.6C1079.1,1204.5 1079.0,1195.1 1079.1,1187.6C1079.1,1180.0 1079.1,1172.7 1079.1,1165.3C1079.1,1157.9 1079.1,1150.5 1079.1,1143.0C1079.0,1135.5 1079.1,1126.1 1078.8,1120.0C1078.5,1113.9 1078.2,1111.1 1077.4,1106.5C1076.6,1101.9 1075.2,1096.9 1073.9,1092.5C1072.6,1088.1 1071.1,1084.2 1069.8,1080.0C1068.5,1075.8 1067.2,1071.4 1066.3,1067.4C1065.4,1063.4 1064.4,1059.7 1064.2,1056.2C1064.0,1052.7 1064.1,1050.2 1064.9,1046.5C1065.7,1042.8 1067.5,1038.1 1069.1,1033.9C1070.7,1029.7 1072.5,1025.8 1074.6,1021.4C1076.7,1017.0 1079.3,1011.8 1081.6,1007.4C1083.9,1003.0 1086.0,998.9 1088.6,994.9C1091.2,990.9 1094.0,987.0 1097.0,983.7C1100.0,980.4 1102.8,977.8 1106.7,975.3C1110.7,972.8 1114.9,970.9 1120.7,968.4C1126.5,965.9 1134.6,962.5 1141.6,960.0C1148.6,957.5 1155.5,956.3 1162.5,953.7C1169.5,951.1 1176.5,948.0 1183.5,944.6C1190.5,941.2 1197.4,937.5 1204.4,933.5C1211.4,929.5 1217.7,925.5 1225.3,920.9C1232.9,916.2 1243.2,909.9 1250.0,905.6C1256.8,901.3 1261.0,898.5 1265.8,895.3C1270.6,892.1 1274.6,889.1 1278.8,886.3C1283.0,883.5 1287.0,881.1 1290.8,878.3C1294.6,875.5 1298.0,872.3 1301.8,869.3C1305.6,866.3 1309.6,863.0 1313.8,860.3C1318.0,857.5 1322.1,854.9 1326.8,852.8C1331.5,850.7 1336.8,848.9 1341.8,847.8C1346.8,846.7 1351.8,846.3 1356.8,846.3Z" fill="none" stroke="#fff" stroke-opacity="0.13" stroke-width="34" filter="url(#db10)"/>
<path d="M1356.8,846.3C1361.8,846.3 1366.8,846.7 1371.8,847.8C1376.8,848.9 1382.1,850.7 1386.8,852.8C1391.5,854.9 1395.6,857.5 1399.8,860.3C1404.0,863.0 1408.0,866.3 1411.8,869.3C1415.6,872.3 1419.0,875.5 1422.8,878.3C1426.6,881.1 1430.6,883.5 1434.8,886.3C1439.0,889.1 1443.0,892.1 1447.8,895.3C1452.6,898.5 1456.8,901.3 1463.6,905.6C1470.3,909.9 1480.7,916.2 1488.3,920.9C1495.9,925.5 1502.2,929.5 1509.2,933.5C1516.2,937.5 1523.1,941.2 1530.1,944.6C1537.1,948.0 1544.1,951.1 1551.1,953.7C1558.1,956.3 1565.0,957.5 1572.0,960.0C1579.0,962.5 1587.1,965.9 1592.9,968.4C1598.7,970.9 1602.9,972.8 1606.9,975.3C1610.8,977.8 1613.6,980.4 1616.6,983.7C1619.6,987.0 1622.4,990.9 1625.0,994.9C1627.6,998.9 1629.7,1003.0 1632.0,1007.4C1634.3,1011.8 1636.9,1017.0 1639.0,1021.4C1641.1,1025.8 1642.9,1029.7 1644.5,1033.9C1646.1,1038.1 1647.9,1042.8 1648.7,1046.5C1649.5,1050.2 1649.6,1052.7 1649.4,1056.2C1649.2,1059.7 1648.2,1063.4 1647.3,1067.4C1646.4,1071.4 1645.1,1075.8 1643.8,1080.0C1642.5,1084.2 1641.0,1088.1 1639.7,1092.5C1638.4,1096.9 1637.0,1101.9 1636.2,1106.5C1635.4,1111.1 1635.1,1113.9 1634.8,1120.0C1634.5,1126.1 1634.5,1135.5 1634.5,1143.0C1634.5,1150.5 1634.5,1157.9 1634.5,1165.3C1634.5,1172.7 1634.5,1180.0 1634.5,1187.6C1634.5,1195.1 1634.5,1204.5 1634.8,1210.6C1635.1,1216.7 1635.4,1219.5 1636.2,1224.1C1637.0,1228.7 1638.4,1233.7 1639.7,1238.1C1641.0,1242.5 1642.5,1246.4 1643.8,1250.6C1645.1,1254.8 1646.4,1259.2 1647.3,1263.2C1648.2,1267.2 1649.2,1270.9 1649.4,1274.4C1649.6,1277.9 1649.5,1280.4 1648.7,1284.1C1647.9,1287.8 1646.1,1292.5 1644.5,1296.7C1642.9,1300.9 1641.1,1304.8 1639.0,1309.2C1636.9,1313.6 1634.3,1318.8 1632.0,1323.2C1629.7,1327.6 1627.6,1331.8 1625.0,1335.7C1622.4,1339.7 1619.6,1343.6 1616.6,1346.9C1613.6,1350.2 1610.8,1352.8 1606.9,1355.3C1602.9,1357.8 1598.7,1359.7 1592.9,1362.2C1587.1,1364.8 1579.0,1368.1 1572.0,1370.6C1565.0,1373.0 1558.1,1374.3 1551.1,1376.9C1544.1,1379.5 1537.1,1382.6 1530.1,1386.0C1523.1,1389.4 1516.2,1393.1 1509.2,1397.1C1502.2,1401.0 1495.9,1405.0 1488.3,1409.7C1480.7,1414.4 1470.3,1420.7 1463.6,1425.0C1456.8,1429.3 1452.6,1432.1 1447.8,1435.3C1443.0,1438.5 1439.0,1441.5 1434.8,1444.3C1430.6,1447.1 1426.6,1449.5 1422.8,1452.3C1419.0,1455.1 1415.6,1458.3 1411.8,1461.3C1408.0,1464.3 1404.0,1467.5 1399.8,1470.3C1395.6,1473.0 1391.5,1475.7 1386.8,1477.8C1382.1,1479.9 1376.8,1481.7 1371.8,1482.8C1366.8,1483.9 1361.8,1484.3 1356.8,1484.3C1351.8,1484.3 1346.8,1483.9 1341.8,1482.8C1336.8,1481.7 1331.5,1479.9 1326.8,1477.8C1322.1,1475.7 1318.0,1473.0 1313.8,1470.3C1309.6,1467.5 1305.6,1464.3 1301.8,1461.3C1298.0,1458.3 1294.6,1455.1 1290.8,1452.3C1287.0,1449.5 1283.0,1447.1 1278.8,1444.3C1274.6,1441.5 1270.6,1438.5 1265.8,1435.3C1261.0,1432.1 1256.8,1429.3 1250.0,1425.0C1243.2,1420.7 1232.9,1414.4 1225.3,1409.7C1217.7,1405.0 1211.4,1401.0 1204.4,1397.1C1197.4,1393.1 1190.5,1389.4 1183.5,1386.0C1176.5,1382.6 1169.5,1379.5 1162.5,1376.9C1155.5,1374.3 1148.6,1373.0 1141.6,1370.6C1134.6,1368.1 1126.5,1364.8 1120.7,1362.2C1114.9,1359.7 1110.7,1357.8 1106.7,1355.3C1102.8,1352.8 1100.0,1350.2 1097.0,1346.9C1094.0,1343.6 1091.2,1339.7 1088.6,1335.7C1086.0,1331.8 1083.9,1327.6 1081.6,1323.2C1079.3,1318.8 1076.7,1313.6 1074.6,1309.2C1072.5,1304.8 1070.7,1300.9 1069.1,1296.7C1067.5,1292.5 1065.7,1287.8 1064.9,1284.1C1064.1,1280.4 1064.0,1277.9 1064.2,1274.4C1064.4,1270.9 1065.4,1267.2 1066.3,1263.2C1067.2,1259.2 1068.5,1254.8 1069.8,1250.6C1071.1,1246.4 1072.6,1242.5 1073.9,1238.1C1075.2,1233.7 1076.6,1228.7 1077.4,1224.1C1078.2,1219.5 1078.5,1216.7 1078.8,1210.6C1079.1,1204.5 1079.0,1195.1 1079.1,1187.6C1079.1,1180.0 1079.1,1172.7 1079.1,1165.3C1079.1,1157.9 1079.1,1150.5 1079.1,1143.0C1079.0,1135.5 1079.1,1126.1 1078.8,1120.0C1078.5,1113.9 1078.2,1111.1 1077.4,1106.5C1076.6,1101.9 1075.2,1096.9 1073.9,1092.5C1072.6,1088.1 1071.1,1084.2 1069.8,1080.0C1068.5,1075.8 1067.2,1071.4 1066.3,1067.4C1065.4,1063.4 1064.4,1059.7 1064.2,1056.2C1064.0,1052.7 1064.1,1050.2 1064.9,1046.5C1065.7,1042.8 1067.5,1038.1 1069.1,1033.9C1070.7,1029.7 1072.5,1025.8 1074.6,1021.4C1076.7,1017.0 1079.3,1011.8 1081.6,1007.4C1083.9,1003.0 1086.0,998.9 1088.6,994.9C1091.2,990.9 1094.0,987.0 1097.0,983.7C1100.0,980.4 1102.8,977.8 1106.7,975.3C1110.7,972.8 1114.9,970.9 1120.7,968.4C1126.5,965.9 1134.6,962.5 1141.6,960.0C1148.6,957.5 1155.5,956.3 1162.5,953.7C1169.5,951.1 1176.5,948.0 1183.5,944.6C1190.5,941.2 1197.4,937.5 1204.4,933.5C1211.4,929.5 1217.7,925.5 1225.3,920.9C1232.9,916.2 1243.2,909.9 1250.0,905.6C1256.8,901.3 1261.0,898.5 1265.8,895.3C1270.6,892.1 1274.6,889.1 1278.8,886.3C1283.0,883.5 1287.0,881.1 1290.8,878.3C1294.6,875.5 1298.0,872.3 1301.8,869.3C1305.6,866.3 1309.6,863.0 1313.8,860.3C1318.0,857.5 1322.1,854.9 1326.8,852.8C1331.5,850.7 1336.8,848.9 1341.8,847.8C1346.8,846.7 1351.8,846.3 1356.8,846.3Z" fill="none" stroke="#fff" stroke-opacity="0.16" stroke-width="18" filter="url(#db5)"/>
<path d="M1356.8,846.3C1361.8,846.3 1366.8,846.7 1371.8,847.8C1376.8,848.9 1382.1,850.7 1386.8,852.8C1391.5,854.9 1395.6,857.5 1399.8,860.3C1404.0,863.0 1408.0,866.3 1411.8,869.3C1415.6,872.3 1419.0,875.5 1422.8,878.3C1426.6,881.1 1430.6,883.5 1434.8,886.3C1439.0,889.1 1443.0,892.1 1447.8,895.3C1452.6,898.5 1456.8,901.3 1463.6,905.6C1470.3,909.9 1480.7,916.2 1488.3,920.9C1495.9,925.5 1502.2,929.5 1509.2,933.5C1516.2,937.5 1523.1,941.2 1530.1,944.6C1537.1,948.0 1544.1,951.1 1551.1,953.7C1558.1,956.3 1565.0,957.5 1572.0,960.0C1579.0,962.5 1587.1,965.9 1592.9,968.4C1598.7,970.9 1602.9,972.8 1606.9,975.3C1610.8,977.8 1613.6,980.4 1616.6,983.7C1619.6,987.0 1622.4,990.9 1625.0,994.9C1627.6,998.9 1629.7,1003.0 1632.0,1007.4C1634.3,1011.8 1636.9,1017.0 1639.0,1021.4C1641.1,1025.8 1642.9,1029.7 1644.5,1033.9C1646.1,1038.1 1647.9,1042.8 1648.7,1046.5C1649.5,1050.2 1649.6,1052.7 1649.4,1056.2C1649.2,1059.7 1648.2,1063.4 1647.3,1067.4C1646.4,1071.4 1645.1,1075.8 1643.8,1080.0C1642.5,1084.2 1641.0,1088.1 1639.7,1092.5C1638.4,1096.9 1637.0,1101.9 1636.2,1106.5C1635.4,1111.1 1635.1,1113.9 1634.8,1120.0C1634.5,1126.1 1634.5,1135.5 1634.5,1143.0C1634.5,1150.5 1634.5,1157.9 1634.5,1165.3C1634.5,1172.7 1634.5,1180.0 1634.5,1187.6C1634.5,1195.1 1634.5,1204.5 1634.8,1210.6C1635.1,1216.7 1635.4,1219.5 1636.2,1224.1C1637.0,1228.7 1638.4,1233.7 1639.7,1238.1C1641.0,1242.5 1642.5,1246.4 1643.8,1250.6C1645.1,1254.8 1646.4,1259.2 1647.3,1263.2C1648.2,1267.2 1649.2,1270.9 1649.4,1274.4C1649.6,1277.9 1649.5,1280.4 1648.7,1284.1C1647.9,1287.8 1646.1,1292.5 1644.5,1296.7C1642.9,1300.9 1641.1,1304.8 1639.0,1309.2C1636.9,1313.6 1634.3,1318.8 1632.0,1323.2C1629.7,1327.6 1627.6,1331.8 1625.0,1335.7C1622.4,1339.7 1619.6,1343.6 1616.6,1346.9C1613.6,1350.2 1610.8,1352.8 1606.9,1355.3C1602.9,1357.8 1598.7,1359.7 1592.9,1362.2C1587.1,1364.8 1579.0,1368.1 1572.0,1370.6C1565.0,1373.0 1558.1,1374.3 1551.1,1376.9C1544.1,1379.5 1537.1,1382.6 1530.1,1386.0C1523.1,1389.4 1516.2,1393.1 1509.2,1397.1C1502.2,1401.0 1495.9,1405.0 1488.3,1409.7C1480.7,1414.4 1470.3,1420.7 1463.6,1425.0C1456.8,1429.3 1452.6,1432.1 1447.8,1435.3C1443.0,1438.5 1439.0,1441.5 1434.8,1444.3C1430.6,1447.1 1426.6,1449.5 1422.8,1452.3C1419.0,1455.1 1415.6,1458.3 1411.8,1461.3C1408.0,1464.3 1404.0,1467.5 1399.8,1470.3C1395.6,1473.0 1391.5,1475.7 1386.8,1477.8C1382.1,1479.9 1376.8,1481.7 1371.8,1482.8C1366.8,1483.9 1361.8,1484.3 1356.8,1484.3C1351.8,1484.3 1346.8,1483.9 1341.8,1482.8C1336.8,1481.7 1331.5,1479.9 1326.8,1477.8C1322.1,1475.7 1318.0,1473.0 1313.8,1470.3C1309.6,1467.5 1305.6,1464.3 1301.8,1461.3C1298.0,1458.3 1294.6,1455.1 1290.8,1452.3C1287.0,1449.5 1283.0,1447.1 1278.8,1444.3C1274.6,1441.5 1270.6,1438.5 1265.8,1435.3C1261.0,1432.1 1256.8,1429.3 1250.0,1425.0C1243.2,1420.7 1232.9,1414.4 1225.3,1409.7C1217.7,1405.0 1211.4,1401.0 1204.4,1397.1C1197.4,1393.1 1190.5,1389.4 1183.5,1386.0C1176.5,1382.6 1169.5,1379.5 1162.5,1376.9C1155.5,1374.3 1148.6,1373.0 1141.6,1370.6C1134.6,1368.1 1126.5,1364.8 1120.7,1362.2C1114.9,1359.7 1110.7,1357.8 1106.7,1355.3C1102.8,1352.8 1100.0,1350.2 1097.0,1346.9C1094.0,1343.6 1091.2,1339.7 1088.6,1335.7C1086.0,1331.8 1083.9,1327.6 1081.6,1323.2C1079.3,1318.8 1076.7,1313.6 1074.6,1309.2C1072.5,1304.8 1070.7,1300.9 1069.1,1296.7C1067.5,1292.5 1065.7,1287.8 1064.9,1284.1C1064.1,1280.4 1064.0,1277.9 1064.2,1274.4C1064.4,1270.9 1065.4,1267.2 1066.3,1263.2C1067.2,1259.2 1068.5,1254.8 1069.8,1250.6C1071.1,1246.4 1072.6,1242.5 1073.9,1238.1C1075.2,1233.7 1076.6,1228.7 1077.4,1224.1C1078.2,1219.5 1078.5,1216.7 1078.8,1210.6C1079.1,1204.5 1079.0,1195.1 1079.1,1187.6C1079.1,1180.0 1079.1,1172.7 1079.1,1165.3C1079.1,1157.9 1079.1,1150.5 1079.1,1143.0C1079.0,1135.5 1079.1,1126.1 1078.8,1120.0C1078.5,1113.9 1078.2,1111.1 1077.4,1106.5C1076.6,1101.9 1075.2,1096.9 1073.9,1092.5C1072.6,1088.1 1071.1,1084.2 1069.8,1080.0C1068.5,1075.8 1067.2,1071.4 1066.3,1067.4C1065.4,1063.4 1064.4,1059.7 1064.2,1056.2C1064.0,1052.7 1064.1,1050.2 1064.9,1046.5C1065.7,1042.8 1067.5,1038.1 1069.1,1033.9C1070.7,1029.7 1072.5,1025.8 1074.6,1021.4C1076.7,1017.0 1079.3,1011.8 1081.6,1007.4C1083.9,1003.0 1086.0,998.9 1088.6,994.9C1091.2,990.9 1094.0,987.0 1097.0,983.7C1100.0,980.4 1102.8,977.8 1106.7,975.3C1110.7,972.8 1114.9,970.9 1120.7,968.4C1126.5,965.9 1134.6,962.5 1141.6,960.0C1148.6,957.5 1155.5,956.3 1162.5,953.7C1169.5,951.1 1176.5,948.0 1183.5,944.6C1190.5,941.2 1197.4,937.5 1204.4,933.5C1211.4,929.5 1217.7,925.5 1225.3,920.9C1232.9,916.2 1243.2,909.9 1250.0,905.6C1256.8,901.3 1261.0,898.5 1265.8,895.3C1270.6,892.1 1274.6,889.1 1278.8,886.3C1283.0,883.5 1287.0,881.1 1290.8,878.3C1294.6,875.5 1298.0,872.3 1301.8,869.3C1305.6,866.3 1309.6,863.0 1313.8,860.3C1318.0,857.5 1322.1,854.9 1326.8,852.8C1331.5,850.7 1336.8,848.9 1341.8,847.8C1346.8,846.7 1351.8,846.3 1356.8,846.3Z" fill="none" stroke="#fff" stroke-opacity="0.27" stroke-width="8" filter="url(#db3)"/>
<path d="M1356.8,846.3C1361.8,846.3 1366.8,846.7 1371.8,847.8C1376.8,848.9 1382.1,850.7 1386.8,852.8C1391.5,854.9 1395.6,857.5 1399.8,860.3C1404.0,863.0 1408.0,866.3 1411.8,869.3C1415.6,872.3 1419.0,875.5 1422.8,878.3C1426.6,881.1 1430.6,883.5 1434.8,886.3C1439.0,889.1 1443.0,892.1 1447.8,895.3C1452.6,898.5 1456.8,901.3 1463.6,905.6C1470.3,909.9 1480.7,916.2 1488.3,920.9C1495.9,925.5 1502.2,929.5 1509.2,933.5C1516.2,937.5 1523.1,941.2 1530.1,944.6C1537.1,948.0 1544.1,951.1 1551.1,953.7C1558.1,956.3 1565.0,957.5 1572.0,960.0C1579.0,962.5 1587.1,965.9 1592.9,968.4C1598.7,970.9 1602.9,972.8 1606.9,975.3C1610.8,977.8 1613.6,980.4 1616.6,983.7C1619.6,987.0 1622.4,990.9 1625.0,994.9C1627.6,998.9 1629.7,1003.0 1632.0,1007.4C1634.3,1011.8 1636.9,1017.0 1639.0,1021.4C1641.1,1025.8 1642.9,1029.7 1644.5,1033.9C1646.1,1038.1 1647.9,1042.8 1648.7,1046.5C1649.5,1050.2 1649.6,1052.7 1649.4,1056.2C1649.2,1059.7 1648.2,1063.4 1647.3,1067.4C1646.4,1071.4 1645.1,1075.8 1643.8,1080.0C1642.5,1084.2 1641.0,1088.1 1639.7,1092.5C1638.4,1096.9 1637.0,1101.9 1636.2,1106.5C1635.4,1111.1 1635.1,1113.9 1634.8,1120.0C1634.5,1126.1 1634.5,1135.5 1634.5,1143.0C1634.5,1150.5 1634.5,1157.9 1634.5,1165.3C1634.5,1172.7 1634.5,1180.0 1634.5,1187.6C1634.5,1195.1 1634.5,1204.5 1634.8,1210.6C1635.1,1216.7 1635.4,1219.5 1636.2,1224.1C1637.0,1228.7 1638.4,1233.7 1639.7,1238.1C1641.0,1242.5 1642.5,1246.4 1643.8,1250.6C1645.1,1254.8 1646.4,1259.2 1647.3,1263.2C1648.2,1267.2 1649.2,1270.9 1649.4,1274.4C1649.6,1277.9 1649.5,1280.4 1648.7,1284.1C1647.9,1287.8 1646.1,1292.5 1644.5,1296.7C1642.9,1300.9 1641.1,1304.8 1639.0,1309.2C1636.9,1313.6 1634.3,1318.8 1632.0,1323.2C1629.7,1327.6 1627.6,1331.8 1625.0,1335.7C1622.4,1339.7 1619.6,1343.6 1616.6,1346.9C1613.6,1350.2 1610.8,1352.8 1606.9,1355.3C1602.9,1357.8 1598.7,1359.7 1592.9,1362.2C1587.1,1364.8 1579.0,1368.1 1572.0,1370.6C1565.0,1373.0 1558.1,1374.3 1551.1,1376.9C1544.1,1379.5 1537.1,1382.6 1530.1,1386.0C1523.1,1389.4 1516.2,1393.1 1509.2,1397.1C1502.2,1401.0 1495.9,1405.0 1488.3,1409.7C1480.7,1414.4 1470.3,1420.7 1463.6,1425.0C1456.8,1429.3 1452.6,1432.1 1447.8,1435.3C1443.0,1438.5 1439.0,1441.5 1434.8,1444.3C1430.6,1447.1 1426.6,1449.5 1422.8,1452.3C1419.0,1455.1 1415.6,1458.3 1411.8,1461.3C1408.0,1464.3 1404.0,1467.5 1399.8,1470.3C1395.6,1473.0 1391.5,1475.7 1386.8,1477.8C1382.1,1479.9 1376.8,1481.7 1371.8,1482.8C1366.8,1483.9 1361.8,1484.3 1356.8,1484.3C1351.8,1484.3 1346.8,1483.9 1341.8,1482.8C1336.8,1481.7 1331.5,1479.9 1326.8,1477.8C1322.1,1475.7 1318.0,1473.0 1313.8,1470.3C1309.6,1467.5 1305.6,1464.3 1301.8,1461.3C1298.0,1458.3 1294.6,1455.1 1290.8,1452.3C1287.0,1449.5 1283.0,1447.1 1278.8,1444.3C1274.6,1441.5 1270.6,1438.5 1265.8,1435.3C1261.0,1432.1 1256.8,1429.3 1250.0,1425.0C1243.2,1420.7 1232.9,1414.4 1225.3,1409.7C1217.7,1405.0 1211.4,1401.0 1204.4,1397.1C1197.4,1393.1 1190.5,1389.4 1183.5,1386.0C1176.5,1382.6 1169.5,1379.5 1162.5,1376.9C1155.5,1374.3 1148.6,1373.0 1141.6,1370.6C1134.6,1368.1 1126.5,1364.8 1120.7,1362.2C1114.9,1359.7 1110.7,1357.8 1106.7,1355.3C1102.8,1352.8 1100.0,1350.2 1097.0,1346.9C1094.0,1343.6 1091.2,1339.7 1088.6,1335.7C1086.0,1331.8 1083.9,1327.6 1081.6,1323.2C1079.3,1318.8 1076.7,1313.6 1074.6,1309.2C1072.5,1304.8 1070.7,1300.9 1069.1,1296.7C1067.5,1292.5 1065.7,1287.8 1064.9,1284.1C1064.1,1280.4 1064.0,1277.9 1064.2,1274.4C1064.4,1270.9 1065.4,1267.2 1066.3,1263.2C1067.2,1259.2 1068.5,1254.8 1069.8,1250.6C1071.1,1246.4 1072.6,1242.5 1073.9,1238.1C1075.2,1233.7 1076.6,1228.7 1077.4,1224.1C1078.2,1219.5 1078.5,1216.7 1078.8,1210.6C1079.1,1204.5 1079.0,1195.1 1079.1,1187.6C1079.1,1180.0 1079.1,1172.7 1079.1,1165.3C1079.1,1157.9 1079.1,1150.5 1079.1,1143.0C1079.0,1135.5 1079.1,1126.1 1078.8,1120.0C1078.5,1113.9 1078.2,1111.1 1077.4,1106.5C1076.6,1101.9 1075.2,1096.9 1073.9,1092.5C1072.6,1088.1 1071.1,1084.2 1069.8,1080.0C1068.5,1075.8 1067.2,1071.4 1066.3,1067.4C1065.4,1063.4 1064.4,1059.7 1064.2,1056.2C1064.0,1052.7 1064.1,1050.2 1064.9,1046.5C1065.7,1042.8 1067.5,1038.1 1069.1,1033.9C1070.7,1029.7 1072.5,1025.8 1074.6,1021.4C1076.7,1017.0 1079.3,1011.8 1081.6,1007.4C1083.9,1003.0 1086.0,998.9 1088.6,994.9C1091.2,990.9 1094.0,987.0 1097.0,983.7C1100.0,980.4 1102.8,977.8 1106.7,975.3C1110.7,972.8 1114.9,970.9 1120.7,968.4C1126.5,965.9 1134.6,962.5 1141.6,960.0C1148.6,957.5 1155.5,956.3 1162.5,953.7C1169.5,951.1 1176.5,948.0 1183.5,944.6C1190.5,941.2 1197.4,937.5 1204.4,933.5C1211.4,929.5 1217.7,925.5 1225.3,920.9C1232.9,916.2 1243.2,909.9 1250.0,905.6C1256.8,901.3 1261.0,898.5 1265.8,895.3C1270.6,892.1 1274.6,889.1 1278.8,886.3C1283.0,883.5 1287.0,881.1 1290.8,878.3C1294.6,875.5 1298.0,872.3 1301.8,869.3C1305.6,866.3 1309.6,863.0 1313.8,860.3C1318.0,857.5 1322.1,854.9 1326.8,852.8C1331.5,850.7 1336.8,848.9 1341.8,847.8C1346.8,846.7 1351.8,846.3 1356.8,846.3Z" fill="none" stroke="#fff" stroke-opacity="0.12" stroke-width="4" filter="url(#db2)"/>
<path d="M1106.7,1355.3C1105.1,1353.9 1100.0,1350.2 1097.0,1346.9C1094.0,1343.6 1091.2,1339.7 1088.6,1335.7C1086.0,1331.8 1083.9,1327.6 1081.6,1323.2C1079.3,1318.8 1076.7,1313.6 1074.6,1309.2C1072.5,1304.8 1070.7,1300.9 1069.1,1296.7C1067.5,1292.5 1065.7,1287.8 1064.9,1284.1C1064.1,1280.4 1064.0,1277.9 1064.2,1274.4C1064.4,1270.9 1065.4,1267.2 1066.3,1263.2C1067.2,1259.2 1068.5,1254.8 1069.8,1250.6C1071.1,1246.4 1072.6,1242.5 1073.9,1238.1C1075.2,1233.7 1076.8,1226.4 1077.4,1224.1" fill="none" stroke="#fff" stroke-opacity="0.2" stroke-width="7" filter="url(#db3)"/>
<path d="M1313.8,1470.3C1311.8,1468.8 1305.6,1464.3 1301.8,1461.3C1298.0,1458.3 1294.6,1455.1 1290.8,1452.3C1287.0,1449.5 1283.0,1447.1 1278.8,1444.3C1274.6,1441.5 1270.6,1438.5 1265.8,1435.3C1261.0,1432.1 1256.8,1429.3 1250.0,1425.0C1243.2,1420.7 1232.9,1414.4 1225.3,1409.7C1217.7,1405.0 1211.4,1401.0 1204.4,1397.1C1197.4,1393.1 1190.5,1389.4 1183.5,1386.0C1176.5,1382.6 1166.0,1378.4 1162.5,1376.9" fill="none" stroke="#fff" stroke-opacity="0.14" stroke-width="7" filter="url(#db3)"/>
<path d="M1106.7,975.3C1105.1,976.7 1100.0,980.4 1097.0,983.7C1094.0,987.0 1091.2,990.9 1088.6,994.9C1086.0,998.9 1083.9,1003.0 1081.6,1007.4C1079.3,1011.8 1076.7,1017.0 1074.6,1021.4C1072.5,1025.8 1070.7,1029.7 1069.1,1033.9C1067.5,1038.1 1065.7,1042.8 1064.9,1046.5C1064.1,1050.2 1064.0,1052.7 1064.2,1056.2C1064.4,1059.7 1065.4,1063.4 1066.3,1067.4C1067.2,1071.4 1068.5,1075.8 1069.8,1080.0C1071.1,1084.2 1072.6,1088.1 1073.9,1092.5C1075.2,1096.9 1076.8,1104.2 1077.4,1106.5" fill="none" stroke="#fff" stroke-opacity="0.2" stroke-width="7" filter="url(#db3)"/>
<path d="M1313.8,860.3C1311.8,861.8 1305.6,866.3 1301.8,869.3C1298.0,872.3 1294.6,875.5 1290.8,878.3C1287.0,881.1 1283.0,883.5 1278.8,886.3C1274.6,889.1 1270.6,892.1 1265.8,895.3C1261.0,898.5 1256.8,901.3 1250.0,905.6C1243.2,909.9 1232.9,916.2 1225.3,920.9C1217.7,925.5 1211.4,929.5 1204.4,933.5C1197.4,937.5 1190.5,941.2 1183.5,944.6C1176.5,948.0 1166.0,952.2 1162.5,953.7" fill="none" stroke="#fff" stroke-opacity="0.14" stroke-width="7" filter="url(#db3)"/>
<path d="M1606.9,1355.3C1608.5,1353.9 1613.6,1350.2 1616.6,1346.9C1619.6,1343.6 1622.4,1339.7 1625.0,1335.7C1627.6,1331.8 1629.7,1327.6 1632.0,1323.2C1634.3,1318.8 1636.9,1313.6 1639.0,1309.2C1641.1,1304.8 1642.9,1300.9 1644.5,1296.7C1646.1,1292.5 1647.9,1287.8 1648.7,1284.1C1649.5,1280.4 1649.6,1277.9 1649.4,1274.4C1649.2,1270.9 1648.2,1267.2 1647.3,1263.2C1646.4,1259.2 1645.1,1254.8 1643.8,1250.6C1642.5,1246.4 1641.0,1242.5 1639.7,1238.1C1638.4,1233.7 1636.8,1226.4 1636.2,1224.1" fill="none" stroke="#fff" stroke-opacity="0.2" stroke-width="7" filter="url(#db3)"/>
<path d="M1399.8,1470.3C1401.8,1468.8 1408.0,1464.3 1411.8,1461.3C1415.6,1458.3 1419.0,1455.1 1422.8,1452.3C1426.6,1449.5 1430.6,1447.1 1434.8,1444.3C1439.0,1441.5 1443.0,1438.5 1447.8,1435.3C1452.6,1432.1 1456.8,1429.3 1463.6,1425.0C1470.3,1420.7 1480.7,1414.4 1488.3,1409.7C1495.9,1405.0 1502.2,1401.0 1509.2,1397.1C1516.2,1393.1 1523.1,1389.4 1530.1,1386.0C1537.1,1382.6 1547.6,1378.4 1551.1,1376.9" fill="none" stroke="#fff" stroke-opacity="0.14" stroke-width="7" filter="url(#db3)"/>
<path d="M1606.9,975.3C1608.5,976.7 1613.6,980.4 1616.6,983.7C1619.6,987.0 1622.4,990.9 1625.0,994.9C1627.6,998.9 1629.7,1003.0 1632.0,1007.4C1634.3,1011.8 1636.9,1017.0 1639.0,1021.4C1641.1,1025.8 1642.9,1029.7 1644.5,1033.9C1646.1,1038.1 1647.9,1042.8 1648.7,1046.5C1649.5,1050.2 1649.6,1052.7 1649.4,1056.2C1649.2,1059.7 1648.2,1063.4 1647.3,1067.4C1646.4,1071.4 1645.1,1075.8 1643.8,1080.0C1642.5,1084.2 1641.0,1088.1 1639.7,1092.5C1638.4,1096.9 1636.8,1104.2 1636.2,1106.5" fill="none" stroke="#fff" stroke-opacity="0.2" stroke-width="7" filter="url(#db3)"/>
<path d="M1399.8,860.3C1401.8,861.8 1408.0,866.3 1411.8,869.3C1415.6,872.3 1419.0,875.5 1422.8,878.3C1426.6,881.1 1430.6,883.5 1434.8,886.3C1439.0,889.1 1443.0,892.1 1447.8,895.3C1452.6,898.5 1456.8,901.3 1463.6,905.6C1470.3,909.9 1480.7,916.2 1488.3,920.9C1495.9,925.5 1502.2,929.5 1509.2,933.5C1516.2,937.5 1523.1,941.2 1530.1,944.6C1537.1,948.0 1547.6,952.2 1551.1,953.7" fill="none" stroke="#fff" stroke-opacity="0.14" stroke-width="7" filter="url(#db3)"/>
<circle cx="1356.8" cy="1165.3" r="226.5" fill="none" stroke="#fff" stroke-opacity="0.28" stroke-width="15" filter="url(#db4)"/>
<circle cx="1356.8" cy="1165.3" r="226" fill="none" stroke="#fff" stroke-opacity="0.34" stroke-width="7.5" filter="url(#db3)"/>
<circle cx="1356.8" cy="1165.3" r="225.5" fill="none" stroke="#fff" stroke-opacity="0.45" stroke-width="6" stroke-dasharray="6.5 5.3" filter="url(#db2)"/>
</g></g>
<line x1="1040.00" y1="1165.30" x2="1673.50" y2="1165.30" stroke="#fff" stroke-width="3.6" stroke-dasharray="4.0 3.7"/>
<line x1="1356.80" y1="862.00" x2="1356.80" y2="1480.60" stroke="#fff" stroke-width="3.6" stroke-dasharray="4.0 3.7"/>
<line x1="1239.50" y1="1369.00" x2="1468.22" y2="974.61" stroke="#fff" stroke-width="4.1" stroke-dasharray="7.5 4.0"/>
<polygon points="1476.0,961.2 1475.2,981.0 1459.2,971.7" fill="#fff"/>
<line x1="1162.70" y1="1276.50" x2="1536.37" y2="1061.43" stroke="#fff" stroke-width="4.1" />
<polygon points="1549.8,1053.7 1539.2,1070.4 1530.0,1054.4" fill="#fff"/>
<text transform="translate(1401.00,1006.00) scale(0.945,1.075)" text-anchor="start" font-size="24.5" fill="#fff" font-weight="bold">Q1</text>
<text transform="translate(1505.50,1111.80) scale(0.945,1.075)" text-anchor="start" font-size="24.5" fill="#fff" font-weight="bold">Q2</text>
<text transform="translate(1370.3,1219.3) scale(1.1,1)" font-size="47" fill="#fff" font-family="Liberation Serif, serif">Γ</text>
<rect x="1036.0" y="844.2" width="641.5" height="641.3999999999999" fill="none" stroke="#000" stroke-width="2.5"/>
<line x1="1036.00" y1="1421.80" x2="1023.50" y2="1421.80" stroke="#000" stroke-width="2.5" />
<line x1="1036.00" y1="1336.30" x2="1023.50" y2="1336.30" stroke="#000" stroke-width="2.5" />
<line x1="1036.00" y1="1250.80" x2="1023.50" y2="1250.80" stroke="#000" stroke-width="2.5" />
<line x1="1036.00" y1="1165.30" x2="1023.50" y2="1165.30" stroke="#000" stroke-width="2.5" />
<line x1="1036.00" y1="1079.80" x2="1023.50" y2="1079.80" stroke="#000" stroke-width="2.5" />
<line x1="1036.00" y1="994.30" x2="1023.50" y2="994.30" stroke="#000" stroke-width="2.5" />
<line x1="1036.00" y1="908.80" x2="1023.50" y2="908.80" stroke="#000" stroke-width="2.5" />
<line x1="1036.00" y1="1464.55" x2="1029.30" y2="1464.55" stroke="#000" stroke-width="2.5" />
<line x1="1036.00" y1="1379.05" x2="1029.30" y2="1379.05" stroke="#000" stroke-width="2.5" />
<line x1="1036.00" y1="1293.55" x2="1029.30" y2="1293.55" stroke="#000" stroke-width="2.5" />
<line x1="1036.00" y1="1208.05" x2="1029.30" y2="1208.05" stroke="#000" stroke-width="2.5" />
<line x1="1036.00" y1="1122.55" x2="1029.30" y2="1122.55" stroke="#000" stroke-width="2.5" />
<line x1="1036.00" y1="1037.05" x2="1029.30" y2="1037.05" stroke="#000" stroke-width="2.5" />
<line x1="1036.00" y1="951.55" x2="1029.30" y2="951.55" stroke="#000" stroke-width="2.5" />
<line x1="1036.00" y1="866.05" x2="1029.30" y2="866.05" stroke="#000" stroke-width="2.5" />
<line x1="1677.50" y1="1421.80" x2="1665.00" y2="1421.80" stroke="#000" stroke-width="2.5" />
<line x1="1677.50" y1="1336.30" x2="1665.00" y2="1336.30" stroke="#000" stroke-width="2.5" />
<line x1="1677.50" y1="1250.80" x2="1665.00" y2="1250.80" stroke="#000" stroke-width="2.5" />
<line x1="1677.50" y1="1079.80" x2="1665.00" y2="1079.80" stroke="#000" stroke-width="2.5" />
<line x1="1677.50" y1="994.30" x2="1665.00" y2="994.30" stroke="#000" stroke-width="2.5" />
<line x1="1677.50" y1="908.80" x2="1665.00" y2="908.80" stroke="#000" stroke-width="2.5" />
<line x1="1677.50" y1="1464.55" x2="1670.80" y2="1464.55" stroke="#000" stroke-width="2.5" />
<line x1="1677.50" y1="1379.05" x2="1670.80" y2="1379.05" stroke="#000" stroke-width="2.5" />
<line x1="1677.50" y1="1293.55" x2="1670.80" y2="1293.55" stroke="#000" stroke-width="2.5" />
<line x1="1677.50" y1="1208.05" x2="1670.80" y2="1208.05" stroke="#000" stroke-width="2.5" />
<line x1="1677.50" y1="1122.55" x2="1670.80" y2="1122.55" stroke="#000" stroke-width="2.5" />
<line x1="1677.50" y1="1037.05" x2="1670.80" y2="1037.05" stroke="#000" stroke-width="2.5" />
<line x1="1677.50" y1="951.55" x2="1670.80" y2="951.55" stroke="#000" stroke-width="2.5" />
<line x1="1677.50" y1="866.05" x2="1670.80" y2="866.05" stroke="#000" stroke-width="2.5" />
<line x1="1100.30" y1="1485.60" x2="1100.30" y2="1498.10" stroke="#000" stroke-width="2.5" />
<line x1="1185.80" y1="1485.60" x2="1185.80" y2="1498.10" stroke="#000" stroke-width="2.5" />
<line x1="1271.30" y1="1485.60" x2="1271.30" y2="1498.10" stroke="#000" stroke-width="2.5" />
<line x1="1356.80" y1="1485.60" x2="1356.80" y2="1498.10" stroke="#000" stroke-width="2.5" />
<line x1="1442.30" y1="1485.60" x2="1442.30" y2="1498.10" stroke="#000" stroke-width="2.5" />
<line x1="1527.80" y1="1485.60" x2="1527.80" y2="1498.10" stroke="#000" stroke-width="2.5" />
<line x1="1613.30" y1="1485.60" x2="1613.30" y2="1498.10" stroke="#000" stroke-width="2.5" />
<line x1="1057.55" y1="1485.60" x2="1057.55" y2="1492.30" stroke="#000" stroke-width="2.5" />
<line x1="1143.05" y1="1485.60" x2="1143.05" y2="1492.30" stroke="#000" stroke-width="2.5" />
<line x1="1228.55" y1="1485.60" x2="1228.55" y2="1492.30" stroke="#000" stroke-width="2.5" />
<line x1="1314.05" y1="1485.60" x2="1314.05" y2="1492.30" stroke="#000" stroke-width="2.5" />
<line x1="1399.55" y1="1485.60" x2="1399.55" y2="1492.30" stroke="#000" stroke-width="2.5" />
<line x1="1485.05" y1="1485.60" x2="1485.05" y2="1492.30" stroke="#000" stroke-width="2.5" />
<line x1="1570.55" y1="1485.60" x2="1570.55" y2="1492.30" stroke="#000" stroke-width="2.5" />
<line x1="1656.05" y1="1485.60" x2="1656.05" y2="1492.30" stroke="#000" stroke-width="2.5" />
<line x1="1100.30" y1="844.20" x2="1100.30" y2="856.70" stroke="#000" stroke-width="2.5" />
<line x1="1185.80" y1="844.20" x2="1185.80" y2="856.70" stroke="#000" stroke-width="2.5" />
<line x1="1271.30" y1="844.20" x2="1271.30" y2="856.70" stroke="#000" stroke-width="2.5" />
<line x1="1356.80" y1="844.20" x2="1356.80" y2="856.70" stroke="#000" stroke-width="2.5" />
<line x1="1442.30" y1="844.20" x2="1442.30" y2="856.70" stroke="#000" stroke-width="2.5" />
<line x1="1527.80" y1="844.20" x2="1527.80" y2="856.70" stroke="#000" stroke-width="2.5" />
<line x1="1613.30" y1="844.20" x2="1613.30" y2="856.70" stroke="#000" stroke-width="2.5" />
<line x1="1057.55" y1="844.20" x2="1057.55" y2="850.90" stroke="#000" stroke-width="2.5" />
<line x1="1143.05" y1="844.20" x2="1143.05" y2="850.90" stroke="#000" stroke-width="2.5" />
<line x1="1228.55" y1="844.20" x2="1228.55" y2="850.90" stroke="#000" stroke-width="2.5" />
<line x1="1314.05" y1="844.20" x2="1314.05" y2="850.90" stroke="#000" stroke-width="2.5" />
<line x1="1399.55" y1="844.20" x2="1399.55" y2="850.90" stroke="#000" stroke-width="2.5" />
<line x1="1485.05" y1="844.20" x2="1485.05" y2="850.90" stroke="#000" stroke-width="2.5" />
<line x1="1570.55" y1="844.20" x2="1570.55" y2="850.90" stroke="#000" stroke-width="2.5" />
<line x1="1656.05" y1="844.20" x2="1656.05" y2="850.90" stroke="#000" stroke-width="2.5" />
<text x="1011.50" y="1430.70" text-anchor="end" font-size="25.0" fill="#000" font-weight="normal" font-style="normal" >−0.6</text>
<text x="1101.80" y="1527.50" text-anchor="middle" font-size="25.0" fill="#000" font-weight="normal" font-style="normal" >−0.6</text>
<text x="1011.50" y="1345.20" text-anchor="end" font-size="25.0" fill="#000" font-weight="normal" font-style="normal" >−0.4</text>
<text x="1187.30" y="1527.50" text-anchor="middle" font-size="25.0" fill="#000" font-weight="normal" font-style="normal" >−0.4</text>
<text x="1011.50" y="1259.70" text-anchor="end" font-size="25.0" fill="#000" font-weight="normal" font-style="normal" >−0.2</text>
<text x="1272.80" y="1527.50" text-anchor="middle" font-size="25.0" fill="#000" font-weight="normal" font-style="normal" >−0.2</text>
<text x="1011.50" y="1174.20" text-anchor="end" font-size="25.0" fill="#000" font-weight="normal" font-style="normal" >0.0</text>
<text x="1358.30" y="1527.50" text-anchor="middle" font-size="25.0" fill="#000" font-weight="normal" font-style="normal" >0.0</text>
<text x="1011.50" y="1088.70" text-anchor="end" font-size="25.0" fill="#000" font-weight="normal" font-style="normal" >0.2</text>
<text x="1443.80" y="1527.50" text-anchor="middle" font-size="25.0" fill="#000" font-weight="normal" font-style="normal" >0.2</text>
<text x="1011.50" y="1003.20" text-anchor="end" font-size="25.0" fill="#000" font-weight="normal" font-style="normal" >0.4</text>
<text x="1529.30" y="1527.50" text-anchor="middle" font-size="25.0" fill="#000" font-weight="normal" font-style="normal" >0.4</text>
<text x="1011.50" y="917.70" text-anchor="end" font-size="25.0" fill="#000" font-weight="normal" font-style="normal" >0.6</text>
<text x="1614.80" y="1527.50" text-anchor="middle" font-size="25.0" fill="#000" font-weight="normal" font-style="normal" >0.6</text>
<text x="1359.8" y="1568.5" text-anchor="middle" font-size="25.0"><tspan font-style="italic">k</tspan><tspan font-size="16.5" dy="7.5">x</tspan><tspan dy="-7.5"> (1/nm)</tspan></text>
<text transform="translate(933,1165) rotate(-90)" text-anchor="middle" font-size="25.0"><tspan font-style="italic">k</tspan><tspan font-size="16.5" dy="7.5">y</tspan><tspan dy="-7.5"> (1/nm)</tspan></text>
<rect x="1691.6" y="843.4" width="50.0" height="641.9" fill="url(#cbar)" stroke="#000" stroke-width="1.3"/>
<text transform="translate(1716.70,885.00) scale(1.03,1.075)" text-anchor="middle" font-size="24.5" fill="#000" font-weight="bold">HI</text>
<text transform="translate(1716.00,1463.60) scale(1.03,1.075)" text-anchor="middle" font-size="24.5" fill="#fff" font-weight="bold">LO</text>
</g>
</svg>
</body></html>
